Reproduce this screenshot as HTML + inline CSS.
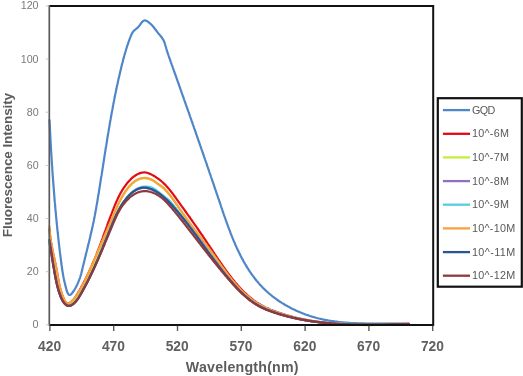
<!DOCTYPE html>
<html lang="en">
<head>
<meta charset="utf-8">
<title>Fluorescence spectra</title>
<style>
html,body{margin:0;padding:0;background:#ffffff;}
svg{display:block;}
</style>
</head>
<body>
<svg width="523" height="376" viewBox="0 0 523 376" font-family='"Liberation Sans", Arial, sans-serif'>
<rect x="0" y="0" width="523" height="376" fill="#ffffff"/>
<defs><filter id="gray" x="-5%" y="-5%" width="110%" height="110%" color-interpolation-filters="sRGB"><feColorMatrix type="saturate" values="0"/></filter></defs>
<g fill="none" stroke-width="2.2" stroke-linejoin="round" stroke-linecap="round">
<path stroke="#4e86c8" d="M49.5 120.0 L49.6 121.3 L49.6 122.6 L49.7 123.9 L49.8 125.3 L49.8 126.6 L49.9 127.9 L50.0 129.2 L50.0 130.5 L50.1 131.8 L50.2 133.1 L50.2 134.5 L50.3 135.8 L50.4 137.1 L50.4 138.4 L50.5 139.7 L50.6 141.0 L50.6 142.3 L50.7 143.6 L50.8 145.0 L50.9 146.3 L50.9 147.6 L51.0 148.9 L51.1 150.2 L51.2 151.5 L51.3 152.8 L51.3 154.1 L51.4 155.4 L51.5 156.7 L51.6 158.0 L51.7 159.3 L51.7 160.7 L51.8 162.0 L51.9 163.3 L52.0 164.6 L52.1 165.9 L52.2 167.2 L52.3 168.5 L52.3 169.8 L52.4 171.1 L52.5 172.4 L52.6 173.7 L52.7 175.0 L52.8 176.3 L52.9 177.6 L53.0 178.9 L53.1 180.2 L53.2 181.5 L53.3 182.8 L53.4 184.2 L53.5 185.5 L53.6 186.8 L53.7 188.1 L53.8 189.4 L53.9 190.7 L54.0 192.0 L54.1 193.3 L54.2 194.6 L54.3 195.9 L54.4 197.2 L54.5 198.5 L54.6 199.8 L54.7 201.1 L54.8 202.4 L55.0 203.7 L55.1 205.0 L55.2 206.3 L55.3 207.6 L55.4 209.0 L55.5 210.3 L55.7 211.6 L55.8 212.9 L55.9 214.2 L56.0 215.5 L56.1 216.8 L56.3 218.1 L56.4 219.4 L56.5 220.7 L56.6 222.0 L56.8 223.3 L56.9 224.6 L57.0 225.9 L57.2 227.3 L57.3 228.6 L57.4 229.9 L57.6 231.2 L57.7 232.5 L57.9 233.8 L58.0 235.1 L58.1 236.4 L58.3 237.7 L58.4 239.1 L58.6 240.4 L58.7 241.7 L58.9 243.0 L59.0 244.3 L59.2 245.6 L59.3 246.9 L59.5 248.2 L59.6 249.6 L59.8 250.9 L59.9 252.2 L60.1 253.5 L60.3 254.8 L60.4 256.1 L60.6 257.5 L60.8 258.8 L60.9 260.1 L61.1 261.4 L61.3 262.7 L61.4 264.0 L61.6 265.3 L61.8 266.5 L62.0 267.8 L62.1 269.0 L62.3 270.2 L62.5 271.4 L62.7 272.6 L62.9 273.8 L63.1 275.0 L63.3 276.2 L63.6 277.4 L63.8 278.7 L64.1 279.9 L64.3 281.3 L64.7 282.6 L65.0 284.1 L65.4 285.6 L65.8 287.1 L66.2 288.8 L66.6 290.4 L67.2 291.9 L67.7 293.2 L68.4 294.2 L69.0 294.9 L69.8 295.0 L70.6 294.7 L71.5 293.9 L72.4 292.8 L73.3 291.5 L74.1 290.3 L74.9 289.0 L75.6 287.7 L76.3 286.4 L76.9 285.2 L77.5 283.9 L78.1 282.7 L78.6 281.4 L79.1 280.2 L79.5 279.0 L80.0 277.8 L80.4 276.5 L80.7 275.3 L81.1 274.1 L81.4 272.9 L81.7 271.7 L82.0 270.5 L82.3 269.2 L82.6 268.0 L82.9 266.8 L83.2 265.6 L83.5 264.3 L83.8 263.1 L84.1 261.9 L84.4 260.6 L84.7 259.4 L85.0 258.1 L85.3 256.9 L85.6 255.6 L85.9 254.3 L86.2 253.1 L86.6 251.8 L86.9 250.5 L87.2 249.3 L87.5 248.0 L87.8 246.7 L88.1 245.4 L88.4 244.1 L88.8 242.8 L89.1 241.6 L89.4 240.3 L89.7 239.0 L90.0 237.7 L90.3 236.4 L90.6 235.1 L90.9 233.8 L91.2 232.5 L91.5 231.2 L91.8 229.9 L92.1 228.6 L92.4 227.3 L92.7 226.0 L92.9 224.7 L93.2 223.5 L93.5 222.2 L93.8 220.9 L94.0 219.6 L94.3 218.3 L94.5 217.0 L94.8 215.7 L95.0 214.4 L95.3 213.1 L95.5 211.9 L95.7 210.6 L96.0 209.3 L96.2 208.0 L96.4 206.7 L96.6 205.4 L96.9 204.1 L97.1 202.9 L97.3 201.6 L97.5 200.3 L97.7 199.0 L97.9 197.7 L98.1 196.4 L98.4 195.1 L98.6 193.8 L98.8 192.5 L99.0 191.3 L99.2 190.0 L99.4 188.7 L99.6 187.4 L99.8 186.1 L100.0 184.8 L100.2 183.5 L100.4 182.2 L100.6 180.9 L100.8 179.6 L101.0 178.3 L101.2 177.0 L101.5 175.7 L101.7 174.4 L101.9 173.1 L102.1 171.8 L102.3 170.5 L102.5 169.2 L102.7 167.9 L102.9 166.6 L103.1 165.3 L103.3 164.0 L103.5 162.7 L103.7 161.4 L103.9 160.1 L104.1 158.8 L104.3 157.5 L104.5 156.2 L104.7 154.9 L104.9 153.6 L105.1 152.4 L105.3 151.1 L105.5 149.8 L105.7 148.5 L105.9 147.2 L106.2 145.9 L106.4 144.6 L106.6 143.3 L106.8 142.0 L107.0 140.7 L107.2 139.4 L107.4 138.1 L107.6 136.8 L107.8 135.5 L108.0 134.2 L108.3 132.9 L108.5 131.6 L108.7 130.3 L108.9 129.0 L109.1 127.7 L109.4 126.4 L109.6 125.1 L109.8 123.8 L110.0 122.5 L110.2 121.3 L110.5 120.0 L110.7 118.7 L110.9 117.4 L111.2 116.1 L111.4 114.8 L111.6 113.5 L111.8 112.2 L112.1 110.9 L112.3 109.7 L112.6 108.4 L112.8 107.1 L113.0 105.8 L113.3 104.5 L113.5 103.2 L113.8 101.9 L114.0 100.6 L114.3 99.4 L114.5 98.1 L114.8 96.8 L115.0 95.5 L115.3 94.2 L115.6 92.9 L115.8 91.7 L116.1 90.4 L116.4 89.1 L116.6 87.8 L116.9 86.5 L117.2 85.2 L117.5 84.0 L117.7 82.7 L118.0 81.4 L118.3 80.1 L118.6 78.8 L118.9 77.5 L119.2 76.3 L119.5 75.0 L119.8 73.7 L120.1 72.4 L120.4 71.1 L120.7 69.9 L121.0 68.6 L121.3 67.3 L121.6 66.0 L121.9 64.8 L122.2 63.5 L122.6 62.2 L122.9 60.9 L123.2 59.6 L123.6 58.4 L123.9 57.1 L124.3 55.8 L124.6 54.6 L125.0 53.3 L125.4 52.0 L125.8 50.7 L126.1 49.5 L126.5 48.2 L126.9 46.9 L127.3 45.7 L127.8 44.4 L128.2 43.2 L128.6 41.9 L129.1 40.7 L129.5 39.4 L130.0 38.1 L130.5 36.9 L131.0 35.7 L131.5 34.5 L132.1 33.3 L132.8 32.2 L133.5 31.2 L134.4 30.3 L135.4 29.5 L136.4 28.7 L137.4 27.9 L138.3 27.0 L139.2 25.9 L140.0 24.8 L140.8 23.6 L141.6 22.6 L142.5 21.6 L143.5 20.8 L144.5 20.4 L145.5 20.5 L146.6 20.9 L147.8 21.7 L148.9 22.5 L150.0 23.4 L151.0 24.3 L152.0 25.2 L152.9 26.2 L153.7 27.2 L154.4 28.2 L155.2 29.3 L156.0 30.3 L156.8 31.3 L157.6 32.4 L158.4 33.4 L159.3 34.4 L160.1 35.4 L161.0 36.5 L161.8 37.5 L162.5 38.6 L163.2 39.7 L163.8 40.8 L164.3 42.0 L164.7 43.2 L165.1 44.5 L165.5 45.8 L165.9 47.0 L166.2 48.3 L166.6 49.6 L167.0 50.9 L167.4 52.1 L167.8 53.4 L168.3 54.7 L168.7 56.0 L169.1 57.2 L169.6 58.5 L170.0 59.7 L170.5 61.0 L170.9 62.3 L171.4 63.5 L171.8 64.8 L172.3 66.0 L172.7 67.3 L173.2 68.5 L173.6 69.8 L174.0 71.0 L174.5 72.3 L174.9 73.5 L175.4 74.8 L175.8 76.0 L176.3 77.3 L176.7 78.5 L177.1 79.7 L177.6 81.0 L178.0 82.2 L178.5 83.5 L178.9 84.7 L179.3 85.9 L179.8 87.2 L180.2 88.4 L180.6 89.6 L181.1 90.9 L181.5 92.1 L181.9 93.3 L182.4 94.6 L182.8 95.8 L183.2 97.0 L183.7 98.2 L184.1 99.5 L184.5 100.7 L185.0 101.9 L185.4 103.1 L185.8 104.4 L186.3 105.6 L186.7 106.8 L187.1 108.0 L187.6 109.3 L188.0 110.5 L188.4 111.7 L188.9 112.9 L189.3 114.1 L189.7 115.4 L190.1 116.6 L190.6 117.8 L191.0 119.0 L191.4 120.2 L191.8 121.5 L192.3 122.7 L192.7 123.9 L193.1 125.1 L193.6 126.3 L194.0 127.6 L194.4 128.8 L194.8 130.0 L195.3 131.2 L195.7 132.4 L196.1 133.6 L196.5 134.9 L197.0 136.1 L197.4 137.3 L197.8 138.5 L198.2 139.7 L198.6 141.0 L199.1 142.2 L199.5 143.4 L199.9 144.6 L200.3 145.8 L200.8 147.0 L201.2 148.3 L201.6 149.5 L202.0 150.7 L202.5 151.9 L202.9 153.2 L203.3 154.4 L203.7 155.6 L204.1 156.8 L204.6 158.0 L205.0 159.3 L205.4 160.5 L205.8 161.7 L206.3 162.9 L206.7 164.2 L207.1 165.4 L207.5 166.6 L208.0 167.9 L208.4 169.1 L208.8 170.3 L209.2 171.5 L209.6 172.8 L210.1 174.0 L210.5 175.2 L210.9 176.5 L211.3 177.7 L211.8 179.0 L212.2 180.2 L212.6 181.4 L213.0 182.7 L213.5 183.9 L213.9 185.2 L214.3 186.4 L214.7 187.6 L215.1 188.9 L215.6 190.1 L216.0 191.4 L216.4 192.6 L216.8 193.9 L217.3 195.1 L217.7 196.4 L218.1 197.6 L218.5 198.9 L219.0 200.2 L219.4 201.4 L219.8 202.7 L220.3 203.9 L220.7 205.2 L221.1 206.5 L221.5 207.7 L222.0 209.0 L222.4 210.3 L222.8 211.5 L223.3 212.8 L223.7 214.1 L224.1 215.3 L224.6 216.6 L225.0 217.9 L225.5 219.1 L225.9 220.4 L226.4 221.6 L226.8 222.9 L227.3 224.2 L227.7 225.4 L228.2 226.7 L228.6 227.9 L229.1 229.2 L229.6 230.4 L230.1 231.7 L230.5 232.9 L231.0 234.2 L231.5 235.4 L232.0 236.7 L232.5 237.9 L233.0 239.1 L233.5 240.4 L234.1 241.6 L234.6 242.8 L235.1 244.0 L235.6 245.2 L236.2 246.5 L236.7 247.7 L237.3 248.9 L237.8 250.1 L238.4 251.2 L239.0 252.4 L239.5 253.6 L240.1 254.8 L240.7 256.0 L241.3 257.1 L241.9 258.3 L242.6 259.4 L243.2 260.6 L243.8 261.7 L244.5 262.9 L245.1 264.0 L245.8 265.1 L246.4 266.2 L247.1 267.3 L247.8 268.4 L248.5 269.5 L249.2 270.6 L249.9 271.7 L250.6 272.7 L251.4 273.8 L252.1 274.8 L252.9 275.9 L253.7 276.9 L254.4 277.9 L255.2 279.0 L256.0 280.0 L256.8 281.0 L257.7 281.9 L258.5 282.9 L259.3 283.9 L260.2 284.9 L261.1 285.8 L262.0 286.7 L262.8 287.7 L263.8 288.6 L264.7 289.5 L265.6 290.4 L266.6 291.3 L267.5 292.1 L268.5 293.0 L269.5 293.8 L270.5 294.7 L271.5 295.5 L272.5 296.3 L273.6 297.1 L274.6 297.9 L275.7 298.7 L276.7 299.5 L277.8 300.2 L278.9 301.0 L280.0 301.7 L281.1 302.4 L282.2 303.1 L283.4 303.8 L284.5 304.5 L285.7 305.2 L286.8 305.8 L288.0 306.5 L289.2 307.1 L290.3 307.7 L291.5 308.4 L292.7 309.0 L293.9 309.5 L295.1 310.1 L296.3 310.7 L297.6 311.2 L298.8 311.7 L300.0 312.3 L301.3 312.8 L302.5 313.3 L303.7 313.7 L305.0 314.2 L306.2 314.7 L307.5 315.1 L308.7 315.5 L310.0 316.0 L311.3 316.4 L312.5 316.7 L313.8 317.1 L315.1 317.5 L316.3 317.8 L317.6 318.2 L318.9 318.5 L320.1 318.8 L321.4 319.1 L322.7 319.4 L324.0 319.6 L325.2 319.9 L326.5 320.1 L327.8 320.4 L329.1 320.6 L330.3 320.8 L331.6 321.0 L332.9 321.2 L334.2 321.4 L335.5 321.6 L336.8 321.7 L338.0 321.9 L339.3 322.0 L340.6 322.2 L341.9 322.3 L343.2 322.4 L344.5 322.5 L345.8 322.6 L347.1 322.7 L348.4 322.8 L349.6 322.9 L350.9 323.0 L352.2 323.0 L353.5 323.1 L354.8 323.2 L356.1 323.2 L357.4 323.3 L358.7 323.3 L360.0 323.3 L361.3 323.4 L362.6 323.4 L363.9 323.4 L365.2 323.5 L366.5 323.5 L367.8 323.5 L369.2 323.5 L370.5 323.5 L371.8 323.5 L373.1 323.5 L374.4 323.5 L375.7 323.5 L377.0 323.5 L378.3 323.5 L379.6 323.5 L381.0 323.5 L382.3 323.5 L383.6 323.5 L384.9 323.6 L386.2 323.6 L387.6 323.6 L388.9 323.6 L390.2 323.6 L391.5 323.6 L392.8 323.6 L394.2 323.6 L395.5 323.6 L396.8 323.6 L398.1 323.7 L399.5 323.7 L400.8 323.7 L402.1 323.8 L403.5 323.8 L404.8 323.8 L406.1 323.9 L407.5 323.9 L408.8 324.0"/>
<path stroke="#e00c14" d="M49.5 229.0 L49.5 229.8 L49.6 230.6 L49.6 231.4 L49.7 232.1 L49.8 232.9 L49.9 233.7 L49.9 234.5 L50.0 235.3 L50.1 236.1 L50.2 236.9 L50.3 237.7 L50.4 238.5 L50.5 239.3 L50.7 240.1 L50.8 240.9 L50.9 241.7 L51.0 242.5 L51.2 243.3 L51.3 244.1 L51.5 244.9 L51.6 245.7 L51.8 246.5 L51.9 247.3 L52.1 248.1 L52.2 248.9 L52.4 249.7 L52.5 250.5 L52.7 251.3 L52.9 252.1 L53.0 252.9 L53.2 253.7 L53.4 254.5 L53.6 255.3 L53.7 256.1 L53.9 256.9 L54.1 257.7 L54.2 258.5 L54.4 259.3 L54.6 260.1 L54.7 260.9 L54.9 261.7 L55.1 262.5 L55.3 263.3 L55.4 264.1 L55.6 264.9 L55.7 265.7 L55.9 266.5 L56.1 267.3 L56.2 268.1 L56.4 268.9 L56.5 269.7 L56.7 270.5 L56.8 271.2 L57.0 272.0 L57.1 272.8 L57.2 273.6 L57.4 274.4 L57.5 275.1 L57.6 275.9 L57.8 276.7 L57.9 277.5 L58.0 278.3 L58.2 279.0 L58.3 279.8 L58.5 280.6 L58.6 281.4 L58.7 282.2 L58.9 282.9 L59.1 283.7 L59.2 284.5 L59.4 285.3 L59.6 286.1 L59.8 286.9 L60.0 287.7 L60.2 288.5 L60.4 289.3 L60.6 290.0 L60.8 290.8 L61.1 291.6 L61.3 292.5 L61.6 293.3 L61.9 294.1 L62.1 294.9 L62.5 295.7 L62.8 296.5 L63.1 297.3 L63.5 298.2 L63.8 299.0 L64.2 299.8 L64.6 300.6 L65.0 301.3 L65.5 301.9 L65.9 302.5 L66.4 302.9 L67.0 303.3 L67.5 303.5 L68.1 303.5 L68.8 303.4 L69.4 303.2 L70.1 302.8 L70.7 302.3 L71.4 301.8 L72.0 301.2 L72.6 300.6 L73.2 300.0 L73.7 299.4 L74.2 298.7 L74.8 298.0 L75.2 297.3 L75.7 296.6 L76.2 295.9 L76.6 295.2 L77.0 294.5 L77.5 293.8 L77.9 293.1 L78.3 292.3 L78.7 291.6 L79.2 290.9 L79.6 290.2 L80.0 289.5 L80.4 288.8 L80.8 288.1 L81.2 287.3 L81.6 286.6 L82.0 285.9 L82.4 285.2 L82.7 284.5 L83.1 283.8 L83.5 283.0 L83.9 282.3 L84.3 281.6 L84.6 280.9 L85.0 280.2 L85.4 279.5 L85.7 278.7 L86.1 278.0 L86.4 277.3 L86.8 276.6 L87.1 275.9 L87.5 275.1 L87.8 274.4 L88.2 273.7 L88.5 273.0 L88.8 272.3 L89.2 271.5 L89.5 270.8 L89.8 270.1 L90.2 269.4 L90.5 268.6 L90.8 267.9 L91.2 267.2 L91.5 266.4 L91.8 265.7 L92.1 265.0 L92.4 264.3 L92.7 263.5 L93.0 262.8 L93.4 262.1 L93.7 261.3 L94.0 260.6 L94.3 259.9 L94.6 259.1 L94.9 258.4 L95.2 257.6 L95.5 256.9 L95.8 256.2 L96.1 255.4 L96.4 254.7 L96.7 253.9 L97.0 253.2 L97.2 252.4 L97.5 251.7 L97.8 250.9 L98.1 250.2 L98.4 249.4 L98.7 248.7 L99.0 247.9 L99.3 247.2 L99.5 246.4 L99.8 245.7 L100.1 244.9 L100.4 244.2 L100.7 243.4 L101.0 242.6 L101.2 241.9 L101.5 241.1 L101.8 240.4 L102.1 239.6 L102.4 238.8 L102.6 238.1 L102.9 237.3 L103.2 236.5 L103.5 235.8 L103.7 235.0 L104.0 234.2 L104.3 233.5 L104.6 232.7 L104.8 231.9 L105.1 231.2 L105.4 230.4 L105.7 229.6 L106.0 228.9 L106.2 228.1 L106.5 227.3 L106.8 226.6 L107.1 225.8 L107.3 225.0 L107.6 224.3 L107.9 223.5 L108.2 222.8 L108.5 222.0 L108.7 221.2 L109.0 220.5 L109.3 219.7 L109.6 218.9 L109.9 218.2 L110.1 217.4 L110.4 216.7 L110.7 215.9 L111.0 215.1 L111.3 214.4 L111.6 213.6 L111.9 212.9 L112.2 212.1 L112.4 211.4 L112.7 210.6 L113.0 209.9 L113.3 209.1 L113.6 208.4 L113.9 207.6 L114.2 206.9 L114.5 206.1 L114.8 205.4 L115.1 204.6 L115.4 203.9 L115.8 203.2 L116.1 202.4 L116.4 201.7 L116.7 201.0 L117.0 200.2 L117.4 199.5 L117.7 198.8 L118.1 198.1 L118.4 197.3 L118.8 196.6 L119.1 195.9 L119.5 195.2 L119.8 194.5 L120.2 193.8 L120.6 193.1 L121.0 192.4 L121.4 191.7 L121.8 191.0 L122.2 190.3 L122.6 189.6 L123.1 189.0 L123.5 188.3 L123.9 187.6 L124.4 187.0 L124.9 186.3 L125.3 185.6 L125.8 185.0 L126.3 184.3 L126.8 183.7 L127.3 183.0 L127.8 182.4 L128.4 181.8 L128.9 181.2 L129.5 180.6 L130.1 180.0 L130.6 179.4 L131.2 178.8 L131.8 178.2 L132.4 177.7 L133.1 177.2 L133.7 176.7 L134.4 176.2 L135.0 175.7 L135.7 175.3 L136.4 174.8 L137.1 174.4 L137.8 174.1 L138.6 173.7 L139.3 173.4 L140.1 173.1 L140.8 172.9 L141.6 172.7 L142.4 172.6 L143.2 172.5 L144.0 172.4 L144.7 172.4 L145.5 172.5 L146.3 172.6 L147.1 172.8 L147.8 173.0 L148.6 173.3 L149.4 173.6 L150.1 173.9 L150.9 174.3 L151.6 174.6 L152.3 175.0 L153.1 175.4 L153.8 175.8 L154.5 176.2 L155.2 176.7 L155.9 177.1 L156.5 177.6 L157.2 178.0 L157.9 178.5 L158.5 179.0 L159.2 179.4 L159.8 179.9 L160.4 180.4 L161.1 180.9 L161.7 181.5 L162.3 182.0 L162.9 182.5 L163.4 183.1 L164.0 183.6 L164.6 184.2 L165.2 184.7 L165.7 185.3 L166.3 185.9 L166.8 186.5 L167.4 187.1 L167.9 187.7 L168.4 188.3 L168.9 188.9 L169.5 189.6 L170.0 190.2 L170.5 190.8 L171.0 191.5 L171.5 192.1 L172.0 192.7 L172.5 193.4 L173.0 194.0 L173.5 194.7 L173.9 195.3 L174.4 196.0 L174.9 196.7 L175.4 197.3 L175.9 198.0 L176.3 198.6 L176.8 199.3 L177.3 200.0 L177.8 200.6 L178.2 201.3 L178.7 202.0 L179.2 202.6 L179.7 203.3 L180.1 203.9 L180.6 204.6 L181.1 205.2 L181.5 205.9 L182.0 206.6 L182.5 207.2 L183.0 207.9 L183.4 208.5 L183.9 209.2 L184.4 209.8 L184.8 210.5 L185.3 211.2 L185.8 211.8 L186.2 212.5 L186.7 213.1 L187.2 213.8 L187.6 214.4 L188.1 215.1 L188.6 215.7 L189.0 216.4 L189.5 217.0 L190.0 217.7 L190.4 218.4 L190.9 219.0 L191.3 219.7 L191.8 220.3 L192.3 221.0 L192.7 221.6 L193.2 222.3 L193.6 222.9 L194.1 223.6 L194.6 224.3 L195.0 224.9 L195.5 225.6 L195.9 226.2 L196.4 226.9 L196.9 227.5 L197.3 228.2 L197.8 228.9 L198.2 229.5 L198.7 230.2 L199.1 230.8 L199.6 231.5 L200.0 232.2 L200.5 232.8 L201.0 233.5 L201.4 234.1 L201.9 234.8 L202.3 235.5 L202.8 236.1 L203.2 236.8 L203.7 237.5 L204.1 238.1 L204.6 238.8 L205.0 239.5 L205.5 240.1 L205.9 240.8 L206.4 241.5 L206.8 242.1 L207.3 242.8 L207.7 243.5 L208.1 244.1 L208.6 244.8 L209.0 245.5 L209.5 246.2 L209.9 246.8 L210.4 247.5 L210.8 248.2 L211.3 248.9 L211.7 249.5 L212.2 250.2 L212.6 250.9 L213.1 251.6 L213.5 252.2 L214.0 252.9 L214.4 253.6 L214.9 254.3 L215.3 254.9 L215.8 255.6 L216.2 256.3 L216.7 257.0 L217.1 257.6 L217.6 258.3 L218.0 259.0 L218.5 259.6 L218.9 260.3 L219.4 261.0 L219.9 261.7 L220.3 262.3 L220.8 263.0 L221.2 263.7 L221.7 264.3 L222.2 265.0 L222.6 265.7 L223.1 266.3 L223.6 267.0 L224.0 267.7 L224.5 268.3 L225.0 269.0 L225.5 269.6 L225.9 270.3 L226.4 271.0 L226.9 271.6 L227.4 272.3 L227.8 272.9 L228.3 273.6 L228.8 274.2 L229.3 274.9 L229.8 275.5 L230.3 276.2 L230.8 276.8 L231.3 277.4 L231.8 278.1 L232.3 278.7 L232.8 279.4 L233.3 280.0 L233.8 280.6 L234.3 281.2 L234.8 281.9 L235.3 282.5 L235.9 283.1 L236.4 283.7 L236.9 284.3 L237.4 285.0 L238.0 285.6 L238.5 286.2 L239.0 286.8 L239.6 287.4 L240.1 288.0 L240.7 288.6 L241.2 289.1 L241.8 289.7 L242.3 290.3 L242.9 290.9 L243.5 291.4 L244.0 292.0 L244.6 292.6 L245.2 293.1 L245.8 293.7 L246.4 294.2 L246.9 294.8 L247.5 295.3 L248.1 295.8 L248.7 296.3 L249.3 296.9 L250.0 297.4 L250.6 297.9 L251.2 298.4 L251.8 298.9 L252.5 299.4 L253.1 299.9 L253.7 300.3 L254.4 300.8 L255.0 301.3 L255.7 301.7 L256.4 302.2 L257.0 302.6 L257.7 303.0 L258.4 303.5 L259.1 303.9 L259.8 304.3 L260.5 304.7 L261.2 305.1 L261.9 305.5 L262.6 305.9 L263.3 306.3 L264.0 306.6 L264.7 307.0 L265.5 307.4 L266.2 307.7 L267.0 308.0 L267.7 308.4 L268.5 308.7 L269.2 309.0 L270.0 309.4 L270.7 309.7 L271.5 310.0 L272.3 310.3 L273.0 310.6 L273.8 310.9 L274.6 311.2 L275.3 311.4 L276.1 311.7 L276.9 312.0 L277.6 312.3 L278.4 312.6 L279.2 312.8 L279.9 313.1 L280.7 313.3 L281.5 313.6 L282.3 313.8 L283.0 314.1 L283.8 314.3 L284.6 314.6 L285.4 314.8 L286.1 315.0 L286.9 315.3 L287.7 315.5 L288.5 315.7 L289.2 315.9 L290.0 316.2 L290.8 316.4 L291.6 316.6 L292.4 316.8 L293.1 317.0 L293.9 317.2 L294.7 317.4 L295.5 317.6 L296.3 317.8 L297.1 318.0 L297.8 318.1 L298.6 318.3 L299.4 318.5 L300.2 318.7 L301.0 318.8 L301.8 319.0 L302.6 319.2 L303.3 319.3 L304.1 319.5 L304.9 319.6 L305.7 319.8 L306.5 319.9 L307.3 320.1 L308.1 320.2 L308.9 320.4 L309.7 320.5 L310.5 320.6 L311.3 320.8 L312.0 320.9 L312.8 321.0 L313.6 321.1 L314.4 321.3 L315.2 321.4 L316.0 321.5 L316.8 321.6 L317.6 321.7 L318.4 321.8 L319.2 321.9 L320.0 322.0 L320.8 322.1 L321.6 322.2 L322.4 322.3 L323.2 322.4 L324.0 322.5 L324.8 322.6 L325.6 322.7 L326.4 322.8 L327.2 322.9 L328.0 322.9 L328.8 323.0 L329.6 323.1 L330.4 323.2 L331.2 323.2 L332.0 323.3 L332.8 323.4 L333.6 323.4 L334.4 323.5 L335.2 323.6 L336.0 323.6 L336.8 323.7 L337.6 323.7 L338.4 323.8 L339.2 323.8 L340.0 323.9 L340.8 323.9 L341.6 324.0 L342.4 324.0 L343.2 324.0 L344.1 324.1 L344.9 324.1 L345.7 324.2 L346.5 324.2 L347.3 324.2 L348.1 324.3 L348.9 324.3 L349.7 324.3 L350.5 324.4 L351.3 324.4 L352.1 324.4 L352.9 324.4 L353.7 324.4 L354.5 324.5 L355.4 324.5 L356.2 324.5 L357.0 324.5 L357.8 324.5 L358.6 324.5 L359.4 324.6 L360.2 324.6 L361.0 324.6 L361.8 324.6 L362.6 324.6 L363.4 324.6 L364.3 324.6 L365.1 324.6 L365.9 324.6 L366.7 324.6 L367.5 324.6 L368.3 324.6 L369.1 324.6 L369.9 324.6 L370.7 324.6 L371.5 324.6 L372.4 324.6 L373.2 324.6 L374.0 324.6 L374.8 324.6 L375.6 324.6 L376.4 324.6 L377.2 324.6 L378.0 324.6 L378.8 324.5 L379.7 324.5 L380.5 324.5 L381.3 324.5 L382.1 324.5 L382.9 324.5 L383.7 324.5 L384.5 324.5 L385.3 324.5 L386.1 324.4 L387.0 324.4 L387.8 324.4 L388.6 324.4 L389.4 324.4 L390.2 324.4 L391.0 324.3 L391.8 324.3 L392.6 324.3 L393.4 324.3 L394.2 324.3 L395.1 324.3 L395.9 324.3 L396.7 324.2 L397.5 324.2 L398.3 324.2 L399.1 324.2 L399.9 324.2 L400.7 324.2 L401.5 324.1 L402.3 324.1 L403.1 324.1 L404.0 324.1 L404.8 324.1 L405.6 324.1 L406.4 324.0 L407.2 324.0 L408.0 324.0 L408.8 324.0"/>
<path stroke="#c4ee3c" d="M49.5 233.0 L49.6 233.8 L49.7 234.6 L49.7 235.3 L49.8 236.1 L49.9 236.9 L50.0 237.7 L50.1 238.5 L50.2 239.3 L50.3 240.0 L50.4 240.8 L50.5 241.6 L50.6 242.4 L50.7 243.2 L50.8 244.0 L51.0 244.8 L51.1 245.5 L51.2 246.3 L51.3 247.1 L51.5 247.9 L51.6 248.7 L51.7 249.5 L51.8 250.2 L52.0 251.0 L52.1 251.8 L52.3 252.6 L52.4 253.4 L52.5 254.2 L52.7 254.9 L52.8 255.7 L53.0 256.5 L53.1 257.3 L53.3 258.1 L53.4 258.9 L53.6 259.6 L53.7 260.4 L53.9 261.2 L54.0 262.0 L54.2 262.8 L54.3 263.6 L54.5 264.3 L54.6 265.1 L54.8 265.9 L54.9 266.7 L55.1 267.4 L55.2 268.2 L55.4 269.0 L55.5 269.8 L55.7 270.6 L55.8 271.3 L56.0 272.1 L56.1 272.9 L56.3 273.7 L56.4 274.4 L56.6 275.2 L56.7 276.0 L56.9 276.7 L57.0 277.5 L57.2 278.3 L57.3 279.0 L57.5 279.8 L57.6 280.6 L57.8 281.4 L58.0 282.1 L58.1 282.9 L58.3 283.7 L58.5 284.4 L58.6 285.2 L58.8 285.9 L59.0 286.7 L59.2 287.5 L59.4 288.2 L59.7 289.0 L59.9 289.8 L60.1 290.5 L60.3 291.3 L60.6 292.0 L60.9 292.8 L61.1 293.6 L61.4 294.3 L61.7 295.1 L62.0 295.9 L62.3 296.6 L62.7 297.4 L63.0 298.1 L63.4 298.9 L63.7 299.7 L64.1 300.4 L64.5 301.2 L64.9 301.9 L65.4 302.6 L65.9 303.2 L66.3 303.8 L66.9 304.2 L67.4 304.6 L68.0 304.7 L68.6 304.7 L69.3 304.6 L69.9 304.4 L70.6 304.0 L71.3 303.5 L72.0 303.0 L72.7 302.4 L73.3 301.8 L73.9 301.2 L74.5 300.6 L75.1 299.9 L75.6 299.3 L76.1 298.6 L76.6 297.9 L77.1 297.3 L77.5 296.6 L77.9 295.9 L78.4 295.2 L78.8 294.6 L79.2 293.9 L79.6 293.2 L80.0 292.5 L80.4 291.8 L80.8 291.1 L81.2 290.5 L81.6 289.8 L82.0 289.1 L82.4 288.4 L82.8 287.7 L83.1 287.0 L83.5 286.3 L83.9 285.6 L84.3 284.9 L84.6 284.2 L85.0 283.5 L85.4 282.8 L85.7 282.1 L86.1 281.4 L86.4 280.7 L86.8 280.0 L87.1 279.3 L87.5 278.6 L87.8 277.9 L88.2 277.2 L88.5 276.5 L88.9 275.8 L89.2 275.1 L89.5 274.4 L89.9 273.7 L90.2 272.9 L90.5 272.2 L90.9 271.5 L91.2 270.8 L91.5 270.1 L91.8 269.4 L92.2 268.7 L92.5 267.9 L92.8 267.2 L93.1 266.5 L93.4 265.8 L93.8 265.1 L94.1 264.3 L94.4 263.6 L94.7 262.9 L95.0 262.2 L95.3 261.4 L95.6 260.7 L95.9 260.0 L96.2 259.3 L96.6 258.5 L96.9 257.8 L97.2 257.1 L97.5 256.4 L97.8 255.6 L98.1 254.9 L98.4 254.2 L98.7 253.4 L99.0 252.7 L99.3 252.0 L99.6 251.2 L99.9 250.5 L100.2 249.8 L100.5 249.0 L100.8 248.3 L101.1 247.6 L101.4 246.8 L101.7 246.1 L102.0 245.4 L102.3 244.6 L102.6 243.9 L102.9 243.2 L103.2 242.4 L103.4 241.7 L103.7 240.9 L104.0 240.2 L104.3 239.5 L104.6 238.7 L104.9 238.0 L105.2 237.3 L105.5 236.5 L105.8 235.8 L106.1 235.0 L106.4 234.3 L106.7 233.6 L107.0 232.8 L107.3 232.1 L107.5 231.3 L107.8 230.6 L108.1 229.9 L108.4 229.1 L108.7 228.4 L109.0 227.6 L109.3 226.9 L109.6 226.2 L109.9 225.4 L110.2 224.7 L110.5 223.9 L110.7 223.2 L111.0 222.5 L111.3 221.7 L111.6 221.0 L111.9 220.3 L112.2 219.5 L112.5 218.8 L112.8 218.0 L113.1 217.3 L113.4 216.6 L113.7 215.8 L113.9 215.1 L114.2 214.4 L114.5 213.6 L114.8 212.9 L115.1 212.1 L115.4 211.4 L115.7 210.7 L116.0 209.9 L116.3 209.2 L116.6 208.5 L116.9 207.8 L117.3 207.0 L117.6 206.3 L117.9 205.6 L118.2 204.9 L118.5 204.2 L118.9 203.4 L119.2 202.7 L119.5 202.0 L119.9 201.3 L120.2 200.6 L120.6 199.9 L121.0 199.2 L121.3 198.5 L121.7 197.8 L122.1 197.1 L122.5 196.4 L122.9 195.7 L123.3 195.0 L123.7 194.4 L124.1 193.7 L124.6 193.0 L125.0 192.4 L125.5 191.7 L125.9 191.0 L126.4 190.4 L126.9 189.7 L127.4 189.1 L127.9 188.5 L128.4 187.8 L128.9 187.2 L129.4 186.6 L130.0 186.0 L130.5 185.4 L131.1 184.8 L131.6 184.2 L132.2 183.7 L132.8 183.2 L133.4 182.6 L134.1 182.2 L134.7 181.7 L135.3 181.2 L136.0 180.8 L136.7 180.4 L137.4 180.1 L138.0 179.7 L138.8 179.5 L139.5 179.2 L140.2 179.0 L141.0 178.8 L141.7 178.6 L142.5 178.5 L143.3 178.4 L144.1 178.4 L144.9 178.4 L145.7 178.5 L146.5 178.6 L147.3 178.7 L148.1 178.9 L148.9 179.1 L149.7 179.3 L150.5 179.6 L151.3 179.9 L152.0 180.2 L152.7 180.5 L153.4 180.9 L154.1 181.3 L154.8 181.7 L155.4 182.2 L156.0 182.6 L156.7 183.1 L157.3 183.5 L157.9 184.0 L158.5 184.5 L159.2 185.0 L159.8 185.5 L160.4 186.0 L161.0 186.4 L161.6 186.9 L162.2 187.5 L162.8 188.0 L163.4 188.5 L164.0 189.0 L164.5 189.5 L165.1 190.1 L165.7 190.6 L166.2 191.1 L166.8 191.7 L167.3 192.3 L167.9 192.8 L168.4 193.4 L168.9 194.0 L169.4 194.6 L170.0 195.2 L170.5 195.8 L170.9 196.4 L171.4 197.1 L171.9 197.7 L172.4 198.3 L172.9 199.0 L173.3 199.6 L173.8 200.3 L174.2 200.9 L174.7 201.6 L175.1 202.2 L175.6 202.9 L176.0 203.6 L176.5 204.2 L176.9 204.9 L177.4 205.6 L177.8 206.2 L178.2 206.9 L178.7 207.6 L179.1 208.2 L179.5 208.9 L180.0 209.6 L180.4 210.3 L180.9 210.9 L181.3 211.6 L181.8 212.3 L182.2 212.9 L182.6 213.6 L183.1 214.2 L183.5 214.9 L184.0 215.5 L184.4 216.2 L184.9 216.9 L185.4 217.5 L185.8 218.1 L186.3 218.8 L186.7 219.4 L187.2 220.1 L187.7 220.7 L188.1 221.4 L188.6 222.0 L189.0 222.6 L189.5 223.3 L190.0 223.9 L190.4 224.6 L190.9 225.2 L191.4 225.8 L191.9 226.5 L192.3 227.1 L192.8 227.7 L193.3 228.3 L193.7 229.0 L194.2 229.6 L194.7 230.2 L195.2 230.9 L195.6 231.5 L196.1 232.1 L196.6 232.7 L197.1 233.4 L197.5 234.0 L198.0 234.6 L198.5 235.2 L199.0 235.9 L199.5 236.5 L199.9 237.1 L200.4 237.7 L200.9 238.4 L201.4 239.0 L201.8 239.6 L202.3 240.2 L202.8 240.9 L203.3 241.5 L203.8 242.1 L204.2 242.7 L204.7 243.4 L205.2 244.0 L205.7 244.6 L206.1 245.2 L206.6 245.9 L207.1 246.5 L207.6 247.1 L208.0 247.8 L208.5 248.4 L209.0 249.0 L209.5 249.6 L209.9 250.3 L210.4 250.9 L210.9 251.6 L211.3 252.2 L211.8 252.8 L212.3 253.5 L212.7 254.1 L213.2 254.8 L213.7 255.4 L214.1 256.0 L214.6 256.7 L215.1 257.3 L215.5 258.0 L216.0 258.6 L216.4 259.3 L216.9 259.9 L217.4 260.6 L217.8 261.2 L218.3 261.9 L218.7 262.5 L219.2 263.2 L219.7 263.8 L220.1 264.5 L220.6 265.1 L221.1 265.8 L221.5 266.4 L222.0 267.1 L222.4 267.7 L222.9 268.4 L223.4 269.0 L223.9 269.7 L224.3 270.3 L224.8 270.9 L225.3 271.6 L225.7 272.2 L226.2 272.9 L226.7 273.5 L227.2 274.1 L227.6 274.8 L228.1 275.4 L228.6 276.0 L229.1 276.7 L229.6 277.3 L230.1 277.9 L230.6 278.6 L231.1 279.2 L231.6 279.8 L232.1 280.4 L232.6 281.0 L233.1 281.7 L233.6 282.3 L234.1 282.9 L234.6 283.5 L235.1 284.1 L235.6 284.7 L236.2 285.3 L236.7 285.9 L237.2 286.5 L237.7 287.1 L238.3 287.6 L238.8 288.2 L239.3 288.8 L239.9 289.4 L240.4 289.9 L241.0 290.5 L241.5 291.1 L242.1 291.6 L242.7 292.2 L243.2 292.7 L243.8 293.3 L244.4 293.8 L244.9 294.3 L245.5 294.9 L246.1 295.4 L246.7 295.9 L247.3 296.4 L247.9 296.9 L248.5 297.4 L249.1 297.9 L249.7 298.4 L250.3 298.9 L250.9 299.4 L251.5 299.9 L252.2 300.4 L252.8 300.8 L253.4 301.3 L254.1 301.7 L254.7 302.2 L255.4 302.6 L256.0 303.0 L256.7 303.5 L257.4 303.9 L258.0 304.3 L258.7 304.7 L259.4 305.1 L260.1 305.5 L260.8 305.9 L261.5 306.3 L262.2 306.6 L262.9 307.0 L263.6 307.4 L264.3 307.7 L265.0 308.0 L265.8 308.4 L266.5 308.7 L267.2 309.0 L268.0 309.4 L268.7 309.7 L269.4 310.0 L270.2 310.3 L270.9 310.6 L271.7 310.9 L272.4 311.2 L273.2 311.4 L273.9 311.7 L274.7 312.0 L275.4 312.3 L276.2 312.5 L277.0 312.8 L277.7 313.1 L278.5 313.3 L279.2 313.6 L280.0 313.8 L280.8 314.1 L281.5 314.3 L282.3 314.5 L283.0 314.8 L283.8 315.0 L284.6 315.2 L285.3 315.5 L286.1 315.7 L286.8 315.9 L287.6 316.1 L288.4 316.3 L289.1 316.5 L289.9 316.8 L290.7 317.0 L291.4 317.2 L292.2 317.4 L293.0 317.5 L293.7 317.7 L294.5 317.9 L295.3 318.1 L296.1 318.3 L296.8 318.5 L297.6 318.6 L298.4 318.8 L299.1 319.0 L299.9 319.2 L300.7 319.3 L301.5 319.5 L302.2 319.6 L303.0 319.8 L303.8 319.9 L304.5 320.1 L305.3 320.2 L306.1 320.4 L306.9 320.5 L307.6 320.7 L308.4 320.8 L309.2 320.9 L310.0 321.1 L310.8 321.2 L311.5 321.3 L312.3 321.4 L313.1 321.6 L313.9 321.7 L314.7 321.8 L315.4 321.9 L316.2 322.0 L317.0 322.1 L317.8 322.2 L318.6 322.3 L319.3 322.4 L320.1 322.5 L320.9 322.6 L321.7 322.7 L322.5 322.8 L323.3 322.9 L324.0 323.0 L324.8 323.1 L325.6 323.2 L326.4 323.2 L327.2 323.3 L328.0 323.4 L328.7 323.5 L329.5 323.5 L330.3 323.6 L331.1 323.7 L331.9 323.7 L332.7 323.8 L333.5 323.9 L334.2 323.9 L335.0 324.0 L335.8 324.0 L336.6 324.1 L337.4 324.2 L338.2 324.2 L339.0 324.3 L339.8 324.3 L340.6 324.4 L341.3 324.4 L342.1 324.4 L342.9 324.5 L343.7 324.5 L344.5 324.6 L345.3 324.6 L346.1 324.6 L346.9 324.7 L347.7 324.7 L348.5 324.7 L349.3 324.8 L350.0 324.8 L350.8 324.8 L351.6 324.8 L352.4 324.9 L353.2 324.9 L354.0 324.9 L354.8 324.9 L355.6 324.9 L356.4 325.0 L357.2 325.0 L358.0 325.0 L358.8 325.0 L359.6 325.0 L360.3 325.0 L361.1 325.0 L361.9 325.0 L362.7 325.0 L363.5 325.1 L364.3 325.1 L365.1 325.1 L365.9 325.1 L366.7 325.1 L367.5 325.1 L368.3 325.1 L369.1 325.1 L369.9 325.1 L370.7 325.1 L371.5 325.1 L372.3 325.1 L373.1 325.1 L373.9 325.1 L374.6 325.0 L375.4 325.0 L376.2 325.0 L377.0 325.0 L377.8 325.0 L378.6 325.0 L379.4 325.0 L380.2 325.0 L381.0 325.0 L381.8 325.0 L382.6 325.0 L383.4 324.9 L384.2 324.9 L385.0 324.9 L385.8 324.9 L386.6 324.9 L387.4 324.9 L388.2 324.9 L389.0 324.9 L389.7 324.8 L390.5 324.8 L391.3 324.8 L392.1 324.8 L392.9 324.8 L393.7 324.8 L394.5 324.7 L395.3 324.7 L396.1 324.7 L396.9 324.7 L397.7 324.7 L398.5 324.7 L399.3 324.6 L400.1 324.6 L400.9 324.6 L401.7 324.6 L402.5 324.6 L403.2 324.6 L404.0 324.5 L404.8 324.5 L405.6 324.5 L406.4 324.5 L407.2 324.5 L408.0 324.5 L408.8 324.4"/>
<path stroke="#9070c0" d="M49.5 240.0 L49.6 240.7 L49.7 241.5 L49.9 242.2 L50.0 243.0 L50.1 243.8 L50.2 244.5 L50.3 245.3 L50.4 246.0 L50.6 246.8 L50.7 247.5 L50.8 248.3 L50.9 249.0 L51.0 249.8 L51.1 250.6 L51.2 251.3 L51.4 252.1 L51.5 252.8 L51.6 253.6 L51.7 254.4 L51.8 255.1 L51.9 255.9 L52.1 256.7 L52.2 257.4 L52.3 258.2 L52.4 258.9 L52.5 259.7 L52.6 260.5 L52.8 261.2 L52.9 262.0 L53.0 262.7 L53.1 263.5 L53.2 264.3 L53.4 265.0 L53.5 265.8 L53.6 266.5 L53.7 267.3 L53.9 268.1 L54.0 268.8 L54.1 269.6 L54.2 270.3 L54.4 271.1 L54.5 271.8 L54.6 272.6 L54.8 273.3 L54.9 274.1 L55.0 274.8 L55.2 275.6 L55.3 276.3 L55.5 277.1 L55.6 277.8 L55.8 278.5 L55.9 279.3 L56.1 280.0 L56.2 280.8 L56.4 281.5 L56.5 282.2 L56.7 283.0 L56.8 283.7 L57.0 284.4 L57.2 285.1 L57.4 285.9 L57.6 286.6 L57.7 287.3 L57.9 288.1 L58.1 288.8 L58.4 289.5 L58.6 290.3 L58.8 291.0 L59.0 291.7 L59.3 292.5 L59.5 293.2 L59.8 294.0 L60.0 294.7 L60.3 295.5 L60.6 296.2 L60.9 297.0 L61.2 297.7 L61.6 298.4 L61.9 299.2 L62.3 299.9 L62.6 300.6 L63.1 301.3 L63.5 301.9 L63.9 302.6 L64.4 303.2 L65.0 303.8 L65.5 304.3 L66.1 304.8 L66.7 305.2 L67.3 305.5 L67.9 305.7 L68.6 305.8 L69.2 305.8 L69.9 305.7 L70.6 305.5 L71.2 305.2 L71.9 304.8 L72.6 304.3 L73.2 303.8 L73.9 303.3 L74.5 302.7 L75.1 302.1 L75.6 301.5 L76.2 300.9 L76.7 300.3 L77.2 299.6 L77.6 299.0 L78.1 298.3 L78.5 297.7 L79.0 297.0 L79.4 296.4 L79.8 295.7 L80.2 295.0 L80.6 294.3 L81.0 293.7 L81.3 293.0 L81.7 292.3 L82.1 291.7 L82.5 291.0 L82.8 290.3 L83.2 289.6 L83.6 289.0 L83.9 288.3 L84.3 287.6 L84.7 287.0 L85.0 286.3 L85.4 285.6 L85.7 284.9 L86.1 284.3 L86.4 283.6 L86.8 282.9 L87.1 282.3 L87.5 281.6 L87.8 280.9 L88.1 280.3 L88.5 279.6 L88.8 278.9 L89.1 278.2 L89.5 277.6 L89.8 276.9 L90.1 276.2 L90.5 275.5 L90.8 274.9 L91.1 274.2 L91.4 273.5 L91.7 272.8 L92.1 272.2 L92.4 271.5 L92.7 270.8 L93.0 270.1 L93.3 269.4 L93.6 268.7 L94.0 268.1 L94.3 267.4 L94.6 266.7 L94.9 266.0 L95.2 265.3 L95.5 264.6 L95.8 263.9 L96.1 263.2 L96.4 262.5 L96.7 261.8 L97.0 261.1 L97.3 260.4 L97.6 259.7 L97.9 259.0 L98.2 258.3 L98.5 257.6 L98.8 256.9 L99.1 256.2 L99.4 255.5 L99.7 254.7 L100.0 254.0 L100.3 253.3 L100.6 252.6 L100.9 251.9 L101.2 251.2 L101.5 250.4 L101.8 249.7 L102.1 249.0 L102.4 248.3 L102.7 247.5 L103.0 246.8 L103.3 246.1 L103.6 245.4 L103.9 244.6 L104.2 243.9 L104.5 243.2 L104.8 242.5 L105.1 241.7 L105.4 241.0 L105.7 240.3 L106.0 239.6 L106.3 238.8 L106.6 238.1 L106.9 237.4 L107.1 236.7 L107.4 236.0 L107.7 235.2 L108.0 234.5 L108.3 233.8 L108.6 233.1 L108.9 232.4 L109.2 231.7 L109.5 231.0 L109.8 230.3 L110.1 229.6 L110.3 228.9 L110.6 228.2 L110.9 227.5 L111.2 226.8 L111.5 226.1 L111.8 225.4 L112.1 224.7 L112.3 224.0 L112.6 223.3 L112.9 222.6 L113.2 222.0 L113.5 221.3 L113.8 220.6 L114.1 220.0 L114.3 219.3 L114.6 218.6 L114.9 218.0 L115.2 217.3 L115.5 216.7 L115.8 216.0 L116.1 215.3 L116.4 214.7 L116.7 214.0 L117.0 213.4 L117.3 212.7 L117.7 212.1 L118.0 211.4 L118.3 210.8 L118.7 210.1 L119.0 209.5 L119.4 208.8 L119.8 208.2 L120.2 207.5 L120.5 206.9 L120.9 206.2 L121.4 205.6 L121.8 204.9 L122.2 204.2 L122.6 203.6 L123.1 202.9 L123.6 202.2 L124.0 201.6 L124.5 200.9 L125.0 200.3 L125.5 199.6 L126.1 199.0 L126.6 198.3 L127.1 197.7 L127.7 197.1 L128.2 196.5 L128.8 195.9 L129.4 195.3 L129.9 194.7 L130.5 194.2 L131.1 193.6 L131.7 193.1 L132.4 192.6 L133.0 192.1 L133.6 191.7 L134.2 191.2 L134.9 190.8 L135.5 190.4 L136.2 190.0 L136.9 189.7 L137.5 189.4 L138.2 189.1 L138.9 188.8 L139.6 188.6 L140.3 188.4 L141.0 188.2 L141.7 188.1 L142.4 188.0 L143.1 187.9 L143.9 187.9 L144.6 187.9 L145.3 187.9 L146.1 188.0 L146.8 188.1 L147.5 188.3 L148.3 188.4 L149.0 188.6 L149.8 188.8 L150.5 189.1 L151.2 189.4 L152.0 189.7 L152.7 190.0 L153.4 190.3 L154.1 190.7 L154.8 191.0 L155.5 191.4 L156.2 191.8 L156.9 192.2 L157.6 192.7 L158.3 193.1 L159.0 193.6 L159.6 194.0 L160.2 194.5 L160.9 194.9 L161.5 195.4 L162.1 195.9 L162.7 196.4 L163.2 196.9 L163.8 197.4 L164.4 197.8 L164.9 198.3 L165.5 198.8 L166.0 199.4 L166.5 199.9 L167.1 200.4 L167.6 200.9 L168.1 201.4 L168.7 202.0 L169.2 202.5 L169.7 203.0 L170.2 203.6 L170.7 204.1 L171.3 204.7 L171.8 205.2 L172.3 205.8 L172.8 206.4 L173.3 206.9 L173.8 207.5 L174.4 208.1 L174.9 208.7 L175.4 209.2 L175.9 209.8 L176.4 210.4 L176.9 211.0 L177.4 211.6 L177.9 212.2 L178.4 212.8 L178.9 213.4 L179.4 214.0 L179.9 214.6 L180.4 215.2 L180.9 215.8 L181.3 216.4 L181.8 217.0 L182.3 217.6 L182.8 218.2 L183.3 218.8 L183.8 219.4 L184.2 220.0 L184.7 220.6 L185.2 221.2 L185.7 221.8 L186.1 222.4 L186.6 223.0 L187.1 223.6 L187.5 224.2 L188.0 224.8 L188.5 225.4 L188.9 226.0 L189.4 226.6 L189.9 227.2 L190.3 227.8 L190.8 228.4 L191.2 229.0 L191.7 229.6 L192.1 230.3 L192.6 230.9 L193.1 231.5 L193.5 232.1 L194.0 232.7 L194.4 233.3 L194.9 233.9 L195.3 234.5 L195.8 235.1 L196.2 235.7 L196.7 236.4 L197.1 237.0 L197.6 237.6 L198.0 238.2 L198.5 238.8 L198.9 239.4 L199.4 240.0 L199.8 240.7 L200.3 241.3 L200.7 241.9 L201.2 242.5 L201.6 243.1 L202.0 243.7 L202.5 244.3 L202.9 245.0 L203.4 245.6 L203.8 246.2 L204.3 246.8 L204.7 247.4 L205.2 248.0 L205.6 248.6 L206.1 249.3 L206.5 249.9 L207.0 250.5 L207.4 251.1 L207.9 251.7 L208.3 252.3 L208.8 253.0 L209.2 253.6 L209.7 254.2 L210.1 254.8 L210.6 255.4 L211.0 256.0 L211.5 256.6 L211.9 257.3 L212.4 257.9 L212.8 258.5 L213.3 259.1 L213.8 259.7 L214.2 260.3 L214.7 261.0 L215.1 261.6 L215.6 262.2 L216.1 262.8 L216.5 263.4 L217.0 264.0 L217.5 264.6 L217.9 265.2 L218.4 265.9 L218.9 266.5 L219.3 267.1 L219.8 267.7 L220.3 268.3 L220.8 268.9 L221.2 269.5 L221.7 270.1 L222.2 270.7 L222.7 271.3 L223.1 271.9 L223.6 272.5 L224.1 273.1 L224.6 273.7 L225.1 274.3 L225.6 274.9 L226.0 275.5 L226.5 276.1 L227.0 276.7 L227.5 277.3 L228.0 277.9 L228.5 278.5 L229.0 279.1 L229.5 279.7 L230.0 280.3 L230.5 280.9 L231.0 281.4 L231.5 282.0 L232.0 282.6 L232.5 283.2 L233.0 283.8 L233.5 284.3 L234.0 284.9 L234.5 285.5 L235.1 286.1 L235.6 286.6 L236.1 287.2 L236.6 287.7 L237.1 288.3 L237.7 288.8 L238.2 289.4 L238.7 289.9 L239.3 290.5 L239.8 291.0 L240.3 291.6 L240.9 292.1 L241.4 292.6 L242.0 293.2 L242.5 293.7 L243.1 294.2 L243.6 294.7 L244.2 295.2 L244.8 295.7 L245.3 296.2 L245.9 296.7 L246.5 297.2 L247.1 297.7 L247.7 298.2 L248.2 298.7 L248.8 299.1 L249.4 299.6 L250.0 300.1 L250.6 300.5 L251.2 301.0 L251.8 301.4 L252.5 301.8 L253.1 302.3 L253.7 302.7 L254.3 303.1 L255.0 303.5 L255.6 303.9 L256.2 304.4 L256.9 304.7 L257.5 305.1 L258.2 305.5 L258.9 305.9 L259.5 306.3 L260.2 306.6 L260.9 307.0 L261.6 307.3 L262.2 307.7 L262.9 308.0 L263.6 308.3 L264.3 308.6 L265.0 308.9 L265.7 309.3 L266.5 309.5 L267.2 309.8 L267.9 310.1 L268.6 310.4 L269.3 310.7 L270.1 311.0 L270.8 311.2 L271.5 311.5 L272.3 311.8 L273.0 312.0 L273.7 312.3 L274.5 312.5 L275.2 312.8 L276.0 313.0 L276.7 313.2 L277.4 313.5 L278.2 313.7 L278.9 313.9 L279.7 314.2 L280.4 314.4 L281.1 314.6 L281.9 314.8 L282.6 315.0 L283.4 315.2 L284.1 315.5 L284.8 315.7 L285.6 315.9 L286.3 316.1 L287.1 316.3 L287.8 316.5 L288.6 316.6 L289.3 316.8 L290.0 317.0 L290.8 317.2 L291.5 317.4 L292.3 317.6 L293.0 317.7 L293.8 317.9 L294.5 318.1 L295.3 318.2 L296.0 318.4 L296.8 318.6 L297.5 318.7 L298.3 318.9 L299.0 319.0 L299.7 319.2 L300.5 319.3 L301.2 319.5 L302.0 319.6 L302.7 319.8 L303.5 319.9 L304.2 320.0 L305.0 320.2 L305.7 320.3 L306.5 320.4 L307.2 320.6 L308.0 320.7 L308.8 320.8 L309.5 320.9 L310.3 321.1 L311.0 321.2 L311.8 321.3 L312.5 321.4 L313.3 321.5 L314.0 321.6 L314.8 321.7 L315.5 321.8 L316.3 321.9 L317.0 322.0 L317.8 322.1 L318.5 322.2 L319.3 322.3 L320.1 322.4 L320.8 322.5 L321.6 322.6 L322.3 322.6 L323.1 322.7 L323.8 322.8 L324.6 322.9 L325.4 323.0 L326.1 323.0 L326.9 323.1 L327.6 323.2 L328.4 323.2 L329.1 323.3 L329.9 323.4 L330.7 323.4 L331.4 323.5 L332.2 323.6 L332.9 323.6 L333.7 323.7 L334.5 323.7 L335.2 323.8 L336.0 323.8 L336.7 323.9 L337.5 323.9 L338.3 324.0 L339.0 324.0 L339.8 324.1 L340.5 324.1 L341.3 324.1 L342.1 324.2 L342.8 324.2 L343.6 324.3 L344.4 324.3 L345.1 324.3 L345.9 324.4 L346.6 324.4 L347.4 324.4 L348.2 324.4 L348.9 324.5 L349.7 324.5 L350.5 324.5 L351.2 324.5 L352.0 324.6 L352.8 324.6 L353.5 324.6 L354.3 324.6 L355.0 324.6 L355.8 324.7 L356.6 324.7 L357.3 324.7 L358.1 324.7 L358.9 324.7 L359.6 324.7 L360.4 324.7 L361.2 324.7 L361.9 324.7 L362.7 324.7 L363.5 324.7 L364.2 324.8 L365.0 324.8 L365.8 324.8 L366.5 324.8 L367.3 324.8 L368.1 324.8 L368.8 324.8 L369.6 324.8 L370.4 324.8 L371.1 324.7 L371.9 324.7 L372.7 324.7 L373.4 324.7 L374.2 324.7 L375.0 324.7 L375.7 324.7 L376.5 324.7 L377.3 324.7 L378.0 324.7 L378.8 324.7 L379.6 324.7 L380.3 324.6 L381.1 324.6 L381.9 324.6 L382.6 324.6 L383.4 324.6 L384.2 324.6 L385.0 324.6 L385.7 324.6 L386.5 324.5 L387.3 324.5 L388.0 324.5 L388.8 324.5 L389.6 324.5 L390.3 324.5 L391.1 324.4 L391.9 324.4 L392.6 324.4 L393.4 324.4 L394.2 324.4 L395.0 324.4 L395.7 324.3 L396.5 324.3 L397.3 324.3 L398.0 324.3 L398.8 324.3 L399.6 324.2 L400.3 324.2 L401.1 324.2 L401.9 324.2 L402.6 324.2 L403.4 324.1 L404.2 324.1 L405.0 324.1 L405.7 324.1 L406.5 324.1 L407.3 324.0 L408.0 324.0 L408.8 324.0"/>
<path stroke="#58cce0" d="M49.5 240.0 L49.6 240.8 L49.7 241.5 L49.9 242.3 L50.0 243.0 L50.1 243.8 L50.2 244.5 L50.3 245.3 L50.4 246.1 L50.6 246.8 L50.7 247.6 L50.8 248.3 L50.9 249.1 L51.0 249.9 L51.1 250.6 L51.3 251.4 L51.4 252.1 L51.5 252.9 L51.6 253.7 L51.7 254.4 L51.8 255.2 L51.9 255.9 L52.1 256.7 L52.2 257.4 L52.3 258.2 L52.4 259.0 L52.5 259.7 L52.6 260.5 L52.8 261.2 L52.9 262.0 L53.0 262.8 L53.1 263.5 L53.2 264.3 L53.4 265.0 L53.5 265.8 L53.6 266.6 L53.7 267.3 L53.9 268.1 L54.0 268.8 L54.1 269.6 L54.3 270.3 L54.4 271.1 L54.5 271.9 L54.6 272.6 L54.8 273.4 L54.9 274.1 L55.1 274.9 L55.2 275.6 L55.3 276.4 L55.5 277.1 L55.6 277.9 L55.8 278.6 L55.9 279.4 L56.1 280.1 L56.2 280.9 L56.4 281.6 L56.5 282.4 L56.7 283.1 L56.9 283.9 L57.0 284.6 L57.2 285.4 L57.4 286.1 L57.6 286.9 L57.8 287.6 L58.0 288.3 L58.2 289.1 L58.4 289.8 L58.6 290.5 L58.8 291.3 L59.1 292.0 L59.3 292.7 L59.6 293.5 L59.8 294.2 L60.1 294.9 L60.4 295.6 L60.7 296.4 L61.0 297.1 L61.3 297.8 L61.6 298.5 L62.0 299.2 L62.3 299.9 L62.7 300.5 L63.1 301.2 L63.6 301.9 L64.0 302.5 L64.5 303.2 L65.1 303.8 L65.6 304.4 L66.2 304.9 L66.8 305.3 L67.4 305.7 L68.1 305.9 L68.7 306.0 L69.4 306.0 L70.1 305.9 L70.7 305.6 L71.4 305.2 L72.1 304.8 L72.8 304.3 L73.4 303.7 L74.0 303.1 L74.6 302.5 L75.2 301.9 L75.8 301.3 L76.3 300.6 L76.8 300.0 L77.3 299.3 L77.7 298.7 L78.2 298.0 L78.6 297.4 L79.0 296.7 L79.4 296.1 L79.8 295.4 L80.2 294.8 L80.6 294.1 L81.0 293.5 L81.4 292.8 L81.7 292.1 L82.1 291.5 L82.5 290.8 L82.9 290.2 L83.2 289.5 L83.6 288.8 L84.0 288.2 L84.3 287.5 L84.7 286.8 L85.1 286.2 L85.4 285.5 L85.8 284.8 L86.1 284.2 L86.5 283.5 L86.8 282.8 L87.2 282.1 L87.5 281.5 L87.9 280.8 L88.2 280.1 L88.6 279.4 L88.9 278.8 L89.3 278.1 L89.6 277.4 L89.9 276.7 L90.3 276.0 L90.6 275.4 L90.9 274.7 L91.3 274.0 L91.6 273.3 L91.9 272.6 L92.2 271.9 L92.6 271.2 L92.9 270.5 L93.2 269.9 L93.5 269.2 L93.8 268.5 L94.2 267.8 L94.5 267.1 L94.8 266.4 L95.1 265.7 L95.4 265.0 L95.7 264.3 L96.0 263.6 L96.3 262.9 L96.6 262.2 L97.0 261.5 L97.3 260.8 L97.6 260.1 L97.9 259.4 L98.2 258.6 L98.5 257.9 L98.8 257.2 L99.0 256.5 L99.3 255.8 L99.6 255.1 L99.9 254.4 L100.2 253.6 L100.5 252.9 L100.8 252.2 L101.1 251.5 L101.4 250.8 L101.7 250.0 L102.0 249.3 L102.2 248.6 L102.5 247.9 L102.8 247.2 L103.1 246.4 L103.4 245.7 L103.7 245.0 L104.0 244.3 L104.2 243.5 L104.5 242.8 L104.8 242.1 L105.1 241.4 L105.4 240.7 L105.7 239.9 L106.0 239.2 L106.2 238.5 L106.5 237.8 L106.8 237.1 L107.1 236.3 L107.4 235.6 L107.7 234.9 L107.9 234.2 L108.2 233.5 L108.5 232.8 L108.8 232.1 L109.1 231.3 L109.4 230.6 L109.7 229.9 L110.0 229.2 L110.3 228.5 L110.6 227.8 L110.8 227.1 L111.1 226.4 L111.4 225.7 L111.7 225.0 L112.0 224.3 L112.3 223.6 L112.6 222.9 L112.9 222.3 L113.2 221.6 L113.5 220.9 L113.8 220.2 L114.2 219.5 L114.5 218.9 L114.8 218.2 L115.1 217.5 L115.4 216.8 L115.7 216.2 L116.1 215.5 L116.4 214.8 L116.7 214.2 L117.1 213.5 L117.4 212.8 L117.7 212.2 L118.1 211.5 L118.4 210.9 L118.8 210.2 L119.2 209.5 L119.5 208.9 L119.9 208.2 L120.3 207.5 L120.7 206.9 L121.1 206.2 L121.5 205.6 L121.9 204.9 L122.3 204.2 L122.7 203.6 L123.1 202.9 L123.6 202.2 L124.0 201.6 L124.5 200.9 L124.9 200.3 L125.4 199.6 L125.9 199.0 L126.4 198.3 L126.8 197.7 L127.3 197.1 L127.9 196.5 L128.4 195.9 L128.9 195.3 L129.4 194.7 L130.0 194.1 L130.5 193.6 L131.1 193.0 L131.7 192.5 L132.3 192.0 L132.9 191.5 L133.5 191.0 L134.1 190.6 L134.7 190.2 L135.3 189.7 L136.0 189.4 L136.6 189.0 L137.3 188.6 L138.0 188.3 L138.6 188.0 L139.3 187.7 L140.0 187.5 L140.8 187.3 L141.5 187.1 L142.2 186.9 L143.0 186.8 L143.8 186.7 L144.5 186.6 L145.3 186.6 L146.1 186.6 L146.9 186.6 L147.7 186.7 L148.5 186.8 L149.2 186.9 L150.0 187.1 L150.8 187.3 L151.5 187.5 L152.2 187.8 L153.0 188.1 L153.6 188.5 L154.3 188.8 L155.0 189.2 L155.6 189.6 L156.2 190.1 L156.9 190.5 L157.5 191.0 L158.1 191.5 L158.7 192.0 L159.3 192.5 L159.9 193.0 L160.5 193.5 L161.1 194.0 L161.7 194.5 L162.3 194.9 L162.9 195.4 L163.5 195.9 L164.1 196.3 L164.7 196.8 L165.3 197.3 L165.9 197.7 L166.5 198.2 L167.1 198.7 L167.7 199.2 L168.3 199.7 L168.8 200.2 L169.4 200.7 L169.9 201.3 L170.5 201.8 L171.0 202.4 L171.5 203.0 L172.0 203.5 L172.5 204.1 L173.0 204.7 L173.5 205.3 L174.0 205.9 L174.4 206.5 L174.9 207.1 L175.4 207.7 L175.9 208.3 L176.3 209.0 L176.8 209.6 L177.2 210.2 L177.7 210.8 L178.2 211.5 L178.6 212.1 L179.1 212.7 L179.5 213.3 L180.0 213.9 L180.4 214.6 L180.9 215.2 L181.4 215.8 L181.8 216.4 L182.3 217.0 L182.8 217.6 L183.3 218.2 L183.7 218.8 L184.2 219.4 L184.7 220.0 L185.2 220.6 L185.7 221.2 L186.1 221.8 L186.6 222.4 L187.1 223.0 L187.6 223.6 L188.1 224.2 L188.6 224.7 L189.1 225.3 L189.5 225.9 L190.0 226.5 L190.5 227.1 L191.0 227.6 L191.5 228.2 L192.0 228.8 L192.5 229.4 L193.0 230.0 L193.5 230.5 L194.0 231.1 L194.5 231.7 L195.0 232.3 L195.5 232.8 L196.0 233.4 L196.5 234.0 L196.9 234.5 L197.4 235.1 L197.9 235.7 L198.4 236.3 L198.9 236.8 L199.4 237.4 L199.9 238.0 L200.4 238.6 L200.9 239.2 L201.4 239.7 L201.9 240.3 L202.3 240.9 L202.8 241.5 L203.3 242.1 L203.8 242.7 L204.3 243.2 L204.7 243.8 L205.2 244.4 L205.7 245.0 L206.2 245.6 L206.6 246.2 L207.1 246.8 L207.6 247.4 L208.1 248.0 L208.5 248.6 L209.0 249.2 L209.4 249.8 L209.9 250.4 L210.4 251.1 L210.8 251.7 L211.3 252.3 L211.7 252.9 L212.2 253.6 L212.6 254.2 L213.0 254.8 L213.5 255.5 L213.9 256.1 L214.3 256.7 L214.8 257.4 L215.2 258.0 L215.6 258.7 L216.0 259.3 L216.5 260.0 L216.9 260.6 L217.3 261.3 L217.7 262.0 L218.1 262.6 L218.6 263.3 L219.0 263.9 L219.4 264.6 L219.8 265.3 L220.2 265.9 L220.7 266.6 L221.1 267.3 L221.5 267.9 L221.9 268.6 L222.3 269.2 L222.8 269.9 L223.2 270.5 L223.6 271.2 L224.0 271.9 L224.5 272.5 L224.9 273.2 L225.4 273.8 L225.8 274.4 L226.2 275.1 L226.7 275.7 L227.1 276.3 L227.6 277.0 L228.1 277.6 L228.5 278.2 L229.0 278.8 L229.5 279.4 L229.9 280.0 L230.4 280.7 L230.9 281.2 L231.4 281.8 L231.9 282.4 L232.4 283.0 L232.9 283.6 L233.4 284.2 L233.9 284.7 L234.5 285.3 L235.0 285.9 L235.5 286.4 L236.1 287.0 L236.6 287.5 L237.1 288.0 L237.7 288.6 L238.2 289.1 L238.8 289.6 L239.4 290.2 L239.9 290.7 L240.5 291.2 L241.1 291.7 L241.6 292.2 L242.2 292.7 L242.8 293.2 L243.4 293.7 L244.0 294.2 L244.6 294.6 L245.2 295.1 L245.8 295.6 L246.4 296.1 L247.0 296.5 L247.6 297.0 L248.2 297.4 L248.8 297.9 L249.5 298.3 L250.1 298.8 L250.7 299.2 L251.3 299.6 L252.0 300.1 L252.6 300.5 L253.3 300.9 L253.9 301.3 L254.6 301.7 L255.2 302.1 L255.9 302.5 L256.5 302.9 L257.2 303.3 L257.8 303.7 L258.5 304.1 L259.2 304.5 L259.8 304.8 L260.5 305.2 L261.2 305.6 L261.8 305.9 L262.5 306.3 L263.2 306.6 L263.9 307.0 L264.6 307.3 L265.3 307.7 L265.9 308.0 L266.6 308.3 L267.3 308.6 L268.0 309.0 L268.7 309.3 L269.4 309.6 L270.1 309.9 L270.8 310.2 L271.5 310.5 L272.2 310.8 L272.9 311.1 L273.6 311.4 L274.3 311.7 L275.1 311.9 L275.8 312.2 L276.5 312.5 L277.2 312.7 L277.9 313.0 L278.6 313.3 L279.4 313.5 L280.1 313.8 L280.8 314.0 L281.5 314.3 L282.2 314.5 L283.0 314.7 L283.7 315.0 L284.4 315.2 L285.2 315.4 L285.9 315.6 L286.6 315.8 L287.3 316.1 L288.1 316.3 L288.8 316.5 L289.6 316.7 L290.3 316.9 L291.0 317.1 L291.8 317.2 L292.5 317.4 L293.3 317.6 L294.0 317.8 L294.7 318.0 L295.5 318.1 L296.2 318.3 L297.0 318.5 L297.7 318.6 L298.5 318.8 L299.2 319.0 L300.0 319.1 L300.7 319.3 L301.5 319.4 L302.2 319.6 L303.0 319.7 L303.7 319.8 L304.5 320.0 L305.3 320.1 L306.0 320.2 L306.8 320.4 L307.5 320.5 L308.3 320.6 L309.0 320.7 L309.8 320.8 L310.6 320.9 L311.3 321.1 L312.1 321.2 L312.9 321.3 L313.6 321.4 L314.4 321.5 L315.2 321.6 L315.9 321.7 L316.7 321.8 L317.5 321.8 L318.2 321.9 L319.0 322.0 L319.8 322.1 L320.5 322.2 L321.3 322.3 L322.1 322.3 L322.9 322.4 L323.6 322.5 L324.4 322.5 L325.2 322.6 L325.9 322.7 L326.7 322.7 L327.5 322.8 L328.3 322.9 L329.0 322.9 L329.8 323.0 L330.6 323.0 L331.4 323.1 L332.1 323.1 L332.9 323.2 L333.7 323.2 L334.5 323.2 L335.2 323.3 L336.0 323.3 L336.8 323.4 L337.6 323.4 L338.4 323.4 L339.1 323.5 L339.9 323.5 L340.7 323.5 L341.5 323.6 L342.3 323.6 L343.0 323.6 L343.8 323.6 L344.6 323.7 L345.4 323.7 L346.1 323.7 L346.9 323.7 L347.7 323.7 L348.5 323.8 L349.3 323.8 L350.0 323.8 L350.8 323.8 L351.6 323.8 L352.4 323.8 L353.2 323.8 L353.9 323.9 L354.7 323.9 L355.5 323.9 L356.3 323.9 L357.1 323.9 L357.8 323.9 L358.6 323.9 L359.4 323.9 L360.2 323.9 L360.9 323.9 L361.7 323.9 L362.5 323.9 L363.3 323.9 L364.0 323.9 L364.8 323.9 L365.6 323.9 L366.4 323.9 L367.1 323.9 L367.9 323.9 L368.7 323.9 L369.5 323.9 L370.2 323.9 L371.0 323.9 L371.8 323.9 L372.6 323.9 L373.3 323.9 L374.1 323.9 L374.9 323.8 L375.6 323.8 L376.4 323.8 L377.2 323.8 L378.0 323.8 L378.7 323.8 L379.5 323.8 L380.3 323.8 L381.0 323.8 L381.8 323.8 L382.6 323.8 L383.3 323.8 L384.1 323.8 L384.8 323.8 L385.6 323.8 L386.4 323.8 L387.1 323.8 L387.9 323.8 L388.6 323.8 L389.4 323.8 L390.2 323.8 L390.9 323.8 L391.7 323.8 L392.4 323.8 L393.2 323.8 L393.9 323.8 L394.7 323.8 L395.4 323.8 L396.2 323.8 L396.9 323.8 L397.7 323.8 L398.4 323.8 L399.2 323.8 L399.9 323.8 L400.7 323.8 L401.4 323.8 L402.2 323.8 L402.9 323.8 L403.6 323.9 L404.4 323.9 L405.1 323.9 L405.9 323.9 L406.6 323.9 L407.3 323.9 L408.1 324.0 L408.8 324.0"/>
<path stroke="#fba040" d="M49.5 226.4 L49.5 227.2 L49.6 227.9 L49.6 228.7 L49.6 229.5 L49.7 230.3 L49.7 231.0 L49.8 231.8 L49.9 232.6 L49.9 233.4 L50.0 234.2 L50.1 235.0 L50.2 235.7 L50.3 236.5 L50.4 237.3 L50.5 238.1 L50.6 238.9 L50.7 239.7 L50.9 240.5 L51.0 241.3 L51.1 242.1 L51.2 242.9 L51.4 243.7 L51.5 244.5 L51.7 245.3 L51.8 246.1 L52.0 246.8 L52.1 247.6 L52.3 248.4 L52.4 249.2 L52.6 250.0 L52.7 250.8 L52.9 251.6 L53.1 252.4 L53.2 253.2 L53.4 254.0 L53.5 254.8 L53.7 255.6 L53.9 256.4 L54.0 257.2 L54.2 258.0 L54.4 258.8 L54.6 259.6 L54.7 260.4 L54.9 261.2 L55.1 262.0 L55.2 262.8 L55.4 263.5 L55.5 264.3 L55.7 265.1 L55.9 265.9 L56.0 266.7 L56.2 267.5 L56.3 268.2 L56.5 269.0 L56.6 269.8 L56.8 270.6 L56.9 271.4 L57.1 272.1 L57.2 272.9 L57.3 273.7 L57.5 274.4 L57.6 275.2 L57.7 276.0 L57.9 276.7 L58.0 277.5 L58.1 278.3 L58.3 279.0 L58.4 279.8 L58.6 280.6 L58.7 281.3 L58.9 282.1 L59.0 282.9 L59.2 283.6 L59.3 284.4 L59.5 285.2 L59.7 286.0 L59.9 286.7 L60.1 287.5 L60.3 288.3 L60.5 289.1 L60.7 289.9 L60.9 290.7 L61.1 291.5 L61.4 292.3 L61.7 293.1 L61.9 293.9 L62.2 294.7 L62.5 295.5 L62.8 296.3 L63.1 297.1 L63.5 297.9 L63.8 298.8 L64.2 299.6 L64.6 300.4 L65.0 301.1 L65.4 301.7 L65.9 302.3 L66.4 302.8 L66.9 303.1 L67.4 303.3 L68.0 303.4 L68.6 303.3 L69.3 303.0 L69.9 302.7 L70.6 302.2 L71.2 301.7 L71.9 301.1 L72.5 300.5 L73.1 299.9 L73.7 299.2 L74.2 298.6 L74.7 297.9 L75.2 297.3 L75.7 296.6 L76.2 295.9 L76.6 295.2 L77.1 294.6 L77.5 293.9 L78.0 293.2 L78.4 292.5 L78.8 291.8 L79.2 291.1 L79.7 290.4 L80.1 289.7 L80.5 289.0 L80.9 288.3 L81.3 287.6 L81.7 286.9 L82.0 286.2 L82.4 285.5 L82.8 284.8 L83.2 284.1 L83.5 283.4 L83.9 282.7 L84.3 282.0 L84.6 281.3 L85.0 280.6 L85.3 279.9 L85.7 279.1 L86.0 278.4 L86.4 277.7 L86.7 277.0 L87.0 276.3 L87.4 275.6 L87.7 274.9 L88.0 274.1 L88.4 273.4 L88.7 272.7 L89.0 272.0 L89.3 271.3 L89.7 270.5 L90.0 269.8 L90.3 269.1 L90.6 268.4 L90.9 267.7 L91.2 266.9 L91.5 266.2 L91.8 265.5 L92.2 264.8 L92.5 264.0 L92.8 263.3 L93.1 262.6 L93.4 261.8 L93.7 261.1 L94.0 260.4 L94.3 259.7 L94.6 258.9 L94.9 258.2 L95.2 257.5 L95.5 256.7 L95.9 256.0 L96.2 255.3 L96.5 254.5 L96.8 253.8 L97.1 253.1 L97.4 252.4 L97.7 251.6 L98.0 250.9 L98.4 250.2 L98.7 249.4 L99.0 248.7 L99.3 248.0 L99.6 247.2 L99.9 246.5 L100.2 245.8 L100.6 245.0 L100.9 244.3 L101.2 243.5 L101.5 242.8 L101.8 242.1 L102.1 241.3 L102.5 240.6 L102.8 239.9 L103.1 239.1 L103.4 238.4 L103.7 237.7 L104.0 236.9 L104.4 236.2 L104.7 235.5 L105.0 234.7 L105.3 234.0 L105.6 233.2 L105.9 232.5 L106.3 231.8 L106.6 231.0 L106.9 230.3 L107.2 229.6 L107.5 228.8 L107.8 228.1 L108.2 227.3 L108.5 226.6 L108.8 225.9 L109.1 225.1 L109.4 224.4 L109.7 223.7 L110.1 222.9 L110.4 222.2 L110.7 221.5 L111.0 220.7 L111.3 220.0 L111.6 219.2 L111.9 218.5 L112.2 217.8 L112.6 217.0 L112.9 216.3 L113.2 215.6 L113.5 214.8 L113.8 214.1 L114.1 213.4 L114.4 212.6 L114.7 211.9 L115.1 211.1 L115.4 210.4 L115.7 209.7 L116.0 209.0 L116.3 208.2 L116.6 207.5 L117.0 206.8 L117.3 206.0 L117.6 205.3 L118.0 204.6 L118.3 203.9 L118.6 203.2 L119.0 202.4 L119.3 201.7 L119.7 201.0 L120.1 200.3 L120.4 199.6 L120.8 198.9 L121.2 198.2 L121.6 197.5 L122.0 196.8 L122.4 196.1 L122.8 195.4 L123.2 194.8 L123.6 194.1 L124.0 193.4 L124.5 192.7 L124.9 192.1 L125.3 191.4 L125.8 190.7 L126.3 190.1 L126.8 189.4 L127.3 188.8 L127.8 188.1 L128.3 187.5 L128.8 186.9 L129.3 186.2 L129.9 185.6 L130.4 185.0 L131.0 184.5 L131.6 183.9 L132.1 183.3 L132.7 182.8 L133.4 182.3 L134.0 181.8 L134.6 181.3 L135.3 180.9 L135.9 180.4 L136.6 180.0 L137.3 179.7 L138.0 179.3 L138.7 179.0 L139.4 178.8 L140.2 178.5 L140.9 178.3 L141.7 178.2 L142.5 178.0 L143.3 178.0 L144.1 177.9 L144.9 177.9 L145.7 178.0 L146.6 178.1 L147.4 178.2 L148.2 178.3 L149.0 178.6 L149.8 178.8 L150.6 179.1 L151.3 179.4 L152.0 179.8 L152.7 180.1 L153.4 180.6 L154.0 181.0 L154.7 181.5 L155.3 181.9 L156.0 182.4 L156.6 182.9 L157.2 183.3 L157.9 183.8 L158.5 184.2 L159.2 184.7 L159.9 185.1 L160.5 185.5 L161.2 185.9 L161.8 186.4 L162.5 186.9 L163.1 187.4 L163.7 187.9 L164.2 188.4 L164.8 189.0 L165.4 189.6 L165.9 190.2 L166.4 190.8 L166.9 191.4 L167.4 192.0 L167.9 192.6 L168.4 193.2 L168.9 193.9 L169.4 194.5 L169.9 195.1 L170.4 195.8 L170.9 196.4 L171.4 197.0 L171.8 197.7 L172.3 198.3 L172.8 199.0 L173.3 199.6 L173.7 200.3 L174.2 200.9 L174.7 201.6 L175.1 202.2 L175.6 202.9 L176.0 203.6 L176.5 204.2 L177.0 204.9 L177.4 205.5 L177.9 206.2 L178.3 206.8 L178.8 207.5 L179.2 208.2 L179.7 208.8 L180.1 209.5 L180.6 210.1 L181.1 210.8 L181.5 211.4 L182.0 212.1 L182.4 212.7 L182.9 213.4 L183.4 214.0 L183.8 214.7 L184.3 215.3 L184.8 216.0 L185.2 216.6 L185.7 217.3 L186.2 217.9 L186.6 218.6 L187.1 219.2 L187.6 219.9 L188.0 220.5 L188.5 221.1 L189.0 221.8 L189.4 222.4 L189.9 223.1 L190.4 223.7 L190.8 224.3 L191.3 225.0 L191.8 225.6 L192.3 226.3 L192.7 226.9 L193.2 227.5 L193.7 228.2 L194.2 228.8 L194.6 229.4 L195.1 230.1 L195.6 230.7 L196.1 231.3 L196.5 232.0 L197.0 232.6 L197.5 233.3 L198.0 233.9 L198.4 234.5 L198.9 235.2 L199.4 235.8 L199.9 236.4 L200.3 237.1 L200.8 237.7 L201.3 238.3 L201.8 239.0 L202.2 239.6 L202.7 240.2 L203.2 240.9 L203.7 241.5 L204.1 242.2 L204.6 242.8 L205.1 243.4 L205.6 244.1 L206.0 244.7 L206.5 245.3 L207.0 246.0 L207.5 246.6 L207.9 247.3 L208.4 247.9 L208.9 248.6 L209.4 249.2 L209.8 249.8 L210.3 250.5 L210.8 251.1 L211.2 251.8 L211.7 252.4 L212.2 253.1 L212.6 253.7 L213.1 254.4 L213.6 255.0 L214.0 255.7 L214.5 256.3 L215.0 257.0 L215.4 257.6 L215.9 258.3 L216.4 258.9 L216.8 259.6 L217.3 260.2 L217.8 260.9 L218.2 261.5 L218.7 262.2 L219.2 262.8 L219.6 263.5 L220.1 264.1 L220.6 264.8 L221.0 265.4 L221.5 266.1 L222.0 266.7 L222.5 267.4 L222.9 268.0 L223.4 268.7 L223.9 269.3 L224.4 270.0 L224.8 270.6 L225.3 271.3 L225.8 271.9 L226.3 272.5 L226.8 273.2 L227.2 273.8 L227.7 274.5 L228.2 275.1 L228.7 275.7 L229.2 276.4 L229.7 277.0 L230.2 277.6 L230.7 278.2 L231.2 278.9 L231.7 279.5 L232.2 280.1 L232.7 280.7 L233.2 281.4 L233.7 282.0 L234.2 282.6 L234.8 283.2 L235.3 283.8 L235.8 284.4 L236.3 285.0 L236.9 285.6 L237.4 286.2 L237.9 286.8 L238.5 287.4 L239.0 287.9 L239.6 288.5 L240.1 289.1 L240.7 289.7 L241.2 290.2 L241.8 290.8 L242.3 291.4 L242.9 291.9 L243.5 292.5 L244.0 293.0 L244.6 293.6 L245.2 294.1 L245.8 294.6 L246.4 295.2 L247.0 295.7 L247.6 296.2 L248.2 296.7 L248.8 297.2 L249.4 297.7 L250.0 298.2 L250.6 298.7 L251.2 299.2 L251.9 299.7 L252.5 300.1 L253.1 300.6 L253.8 301.1 L254.4 301.5 L255.1 302.0 L255.7 302.4 L256.4 302.8 L257.1 303.3 L257.7 303.7 L258.4 304.1 L259.1 304.5 L259.8 304.9 L260.5 305.3 L261.2 305.7 L261.9 306.1 L262.6 306.4 L263.3 306.8 L264.0 307.1 L264.8 307.5 L265.5 307.8 L266.2 308.2 L267.0 308.5 L267.7 308.8 L268.5 309.1 L269.2 309.4 L270.0 309.7 L270.7 310.0 L271.5 310.3 L272.2 310.6 L273.0 310.9 L273.7 311.2 L274.5 311.5 L275.3 311.7 L276.0 312.0 L276.8 312.3 L277.5 312.5 L278.3 312.8 L279.1 313.1 L279.8 313.3 L280.6 313.6 L281.4 313.8 L282.1 314.0 L282.9 314.3 L283.7 314.5 L284.4 314.8 L285.2 315.0 L286.0 315.2 L286.7 315.4 L287.5 315.6 L288.3 315.9 L289.1 316.1 L289.8 316.3 L290.6 316.5 L291.4 316.7 L292.1 316.9 L292.9 317.1 L293.7 317.3 L294.5 317.5 L295.2 317.6 L296.0 317.8 L296.8 318.0 L297.6 318.2 L298.3 318.4 L299.1 318.5 L299.9 318.7 L300.7 318.9 L301.5 319.0 L302.2 319.2 L303.0 319.3 L303.8 319.5 L304.6 319.6 L305.4 319.8 L306.1 319.9 L306.9 320.1 L307.7 320.2 L308.5 320.4 L309.3 320.5 L310.0 320.6 L310.8 320.7 L311.6 320.9 L312.4 321.0 L313.2 321.1 L314.0 321.2 L314.8 321.4 L315.5 321.5 L316.3 321.6 L317.1 321.7 L317.9 321.8 L318.7 321.9 L319.5 322.0 L320.3 322.1 L321.0 322.2 L321.8 322.3 L322.6 322.4 L323.4 322.5 L324.2 322.6 L325.0 322.6 L325.8 322.7 L326.6 322.8 L327.4 322.9 L328.2 323.0 L328.9 323.0 L329.7 323.1 L330.5 323.2 L331.3 323.2 L332.1 323.3 L332.9 323.4 L333.7 323.4 L334.5 323.5 L335.3 323.6 L336.1 323.6 L336.9 323.7 L337.7 323.7 L338.5 323.8 L339.3 323.8 L340.1 323.9 L340.8 323.9 L341.6 324.0 L342.4 324.0 L343.2 324.1 L344.0 324.1 L344.8 324.1 L345.6 324.2 L346.4 324.2 L347.2 324.2 L348.0 324.3 L348.8 324.3 L349.6 324.3 L350.4 324.4 L351.2 324.4 L352.0 324.4 L352.8 324.4 L353.6 324.4 L354.4 324.5 L355.2 324.5 L356.0 324.5 L356.8 324.5 L357.6 324.5 L358.4 324.6 L359.2 324.6 L360.0 324.6 L360.8 324.6 L361.6 324.6 L362.4 324.6 L363.2 324.6 L364.0 324.6 L364.8 324.6 L365.6 324.6 L366.4 324.6 L367.2 324.6 L368.0 324.6 L368.8 324.6 L369.6 324.6 L370.4 324.6 L371.2 324.6 L372.0 324.6 L372.8 324.6 L373.6 324.6 L374.4 324.6 L375.2 324.6 L376.0 324.6 L376.8 324.6 L377.6 324.6 L378.4 324.6 L379.2 324.6 L380.0 324.6 L380.8 324.5 L381.6 324.5 L382.4 324.5 L383.2 324.5 L384.0 324.5 L384.8 324.5 L385.6 324.5 L386.4 324.5 L387.2 324.4 L388.0 324.4 L388.8 324.4 L389.6 324.4 L390.4 324.4 L391.2 324.4 L392.0 324.3 L392.8 324.3 L393.6 324.3 L394.4 324.3 L395.2 324.3 L396.0 324.3 L396.8 324.2 L397.6 324.2 L398.4 324.2 L399.2 324.2 L400.0 324.2 L400.8 324.2 L401.6 324.1 L402.4 324.1 L403.2 324.1 L404.0 324.1 L404.8 324.1 L405.6 324.1 L406.4 324.0 L407.2 324.0 L408.0 324.0 L408.8 324.0"/>
<path stroke="#2a5590" d="M49.5 240.0 L49.6 240.7 L49.7 241.5 L49.9 242.3 L50.0 243.0 L50.1 243.8 L50.2 244.5 L50.3 245.3 L50.4 246.0 L50.6 246.8 L50.7 247.5 L50.8 248.3 L50.9 249.1 L51.0 249.8 L51.1 250.6 L51.2 251.3 L51.4 252.1 L51.5 252.9 L51.6 253.6 L51.7 254.4 L51.8 255.1 L51.9 255.9 L52.1 256.7 L52.2 257.4 L52.3 258.2 L52.4 259.0 L52.5 259.7 L52.6 260.5 L52.8 261.2 L52.9 262.0 L53.0 262.8 L53.1 263.5 L53.2 264.3 L53.4 265.0 L53.5 265.8 L53.6 266.6 L53.7 267.3 L53.9 268.1 L54.0 268.8 L54.1 269.6 L54.2 270.3 L54.4 271.1 L54.5 271.8 L54.6 272.6 L54.8 273.3 L54.9 274.1 L55.1 274.8 L55.2 275.6 L55.3 276.3 L55.5 277.1 L55.6 277.8 L55.8 278.6 L55.9 279.3 L56.1 280.0 L56.2 280.8 L56.4 281.5 L56.5 282.2 L56.7 283.0 L56.9 283.7 L57.0 284.4 L57.2 285.2 L57.4 285.9 L57.6 286.6 L57.8 287.4 L57.9 288.1 L58.2 288.8 L58.4 289.6 L58.6 290.3 L58.8 291.0 L59.0 291.8 L59.3 292.5 L59.5 293.3 L59.8 294.0 L60.1 294.7 L60.3 295.5 L60.6 296.2 L60.9 297.0 L61.2 297.7 L61.6 298.5 L61.9 299.2 L62.3 299.9 L62.7 300.6 L63.1 301.3 L63.5 302.0 L64.0 302.6 L64.5 303.2 L65.0 303.8 L65.5 304.3 L66.1 304.8 L66.7 305.2 L67.3 305.5 L68.0 305.7 L68.6 305.9 L69.3 305.8 L69.9 305.7 L70.6 305.5 L71.3 305.2 L72.0 304.8 L72.6 304.3 L73.3 303.8 L73.9 303.3 L74.5 302.7 L75.1 302.1 L75.7 301.5 L76.2 300.9 L76.7 300.2 L77.2 299.6 L77.7 298.9 L78.1 298.3 L78.6 297.6 L79.0 297.0 L79.4 296.3 L79.8 295.6 L80.2 295.0 L80.6 294.3 L81.0 293.6 L81.4 292.9 L81.7 292.3 L82.1 291.6 L82.5 290.9 L82.9 290.3 L83.2 289.6 L83.6 288.9 L84.0 288.2 L84.3 287.6 L84.7 286.9 L85.1 286.2 L85.4 285.6 L85.8 284.9 L86.1 284.2 L86.5 283.6 L86.8 282.9 L87.2 282.2 L87.5 281.5 L87.8 280.9 L88.2 280.2 L88.5 279.5 L88.8 278.9 L89.2 278.2 L89.5 277.5 L89.8 276.8 L90.2 276.2 L90.5 275.5 L90.8 274.8 L91.1 274.1 L91.5 273.5 L91.8 272.8 L92.1 272.1 L92.4 271.4 L92.7 270.7 L93.0 270.0 L93.4 269.4 L93.7 268.7 L94.0 268.0 L94.3 267.3 L94.6 266.6 L94.9 265.9 L95.2 265.2 L95.5 264.5 L95.8 263.8 L96.1 263.2 L96.4 262.5 L96.7 261.8 L97.1 261.1 L97.4 260.4 L97.7 259.6 L98.0 258.9 L98.3 258.2 L98.6 257.5 L98.9 256.8 L99.2 256.1 L99.5 255.4 L99.8 254.7 L100.1 254.0 L100.4 253.2 L100.7 252.5 L101.0 251.8 L101.3 251.1 L101.6 250.3 L101.9 249.6 L102.2 248.9 L102.5 248.2 L102.8 247.4 L103.0 246.7 L103.3 246.0 L103.6 245.3 L103.9 244.5 L104.2 243.8 L104.5 243.1 L104.8 242.4 L105.1 241.6 L105.4 240.9 L105.7 240.2 L106.0 239.5 L106.3 238.7 L106.6 238.0 L106.9 237.3 L107.2 236.6 L107.5 235.9 L107.8 235.1 L108.0 234.4 L108.3 233.7 L108.6 233.0 L108.9 232.3 L109.2 231.6 L109.5 230.9 L109.8 230.1 L110.1 229.4 L110.4 228.7 L110.6 228.0 L110.9 227.3 L111.2 226.6 L111.5 226.0 L111.8 225.3 L112.1 224.6 L112.4 223.9 L112.6 223.2 L112.9 222.5 L113.2 221.9 L113.5 221.2 L113.8 220.5 L114.1 219.8 L114.3 219.2 L114.6 218.5 L114.9 217.9 L115.2 217.2 L115.5 216.5 L115.8 215.9 L116.1 215.2 L116.4 214.6 L116.7 213.9 L117.0 213.3 L117.3 212.6 L117.7 212.0 L118.0 211.3 L118.3 210.7 L118.7 210.0 L119.0 209.4 L119.4 208.7 L119.8 208.1 L120.1 207.4 L120.5 206.8 L120.9 206.1 L121.3 205.4 L121.8 204.8 L122.2 204.1 L122.6 203.4 L123.1 202.8 L123.5 202.1 L124.0 201.4 L124.5 200.8 L125.0 200.1 L125.5 199.5 L126.0 198.8 L126.5 198.2 L127.1 197.5 L127.6 196.9 L128.2 196.3 L128.7 195.7 L129.3 195.1 L129.9 194.5 L130.5 194.0 L131.1 193.4 L131.7 192.9 L132.3 192.4 L132.9 191.9 L133.5 191.4 L134.2 191.0 L134.8 190.6 L135.5 190.2 L136.1 189.8 L136.8 189.4 L137.5 189.1 L138.1 188.8 L138.8 188.6 L139.5 188.3 L140.2 188.1 L140.9 187.9 L141.6 187.8 L142.3 187.7 L143.1 187.6 L143.8 187.6 L144.5 187.6 L145.2 187.6 L146.0 187.7 L146.7 187.8 L147.5 187.9 L148.2 188.1 L148.9 188.3 L149.7 188.5 L150.4 188.8 L151.1 189.0 L151.9 189.3 L152.6 189.6 L153.3 190.0 L154.0 190.3 L154.8 190.7 L155.5 191.1 L156.2 191.5 L156.9 191.9 L157.5 192.3 L158.2 192.8 L158.9 193.2 L159.5 193.7 L160.2 194.1 L160.8 194.6 L161.4 195.1 L162.0 195.5 L162.6 196.0 L163.2 196.5 L163.8 197.0 L164.3 197.5 L164.9 198.0 L165.4 198.5 L166.0 199.0 L166.5 199.5 L167.0 200.0 L167.6 200.6 L168.1 201.1 L168.6 201.6 L169.1 202.1 L169.7 202.7 L170.2 203.2 L170.7 203.8 L171.2 204.3 L171.7 204.9 L172.3 205.5 L172.8 206.0 L173.3 206.6 L173.8 207.2 L174.3 207.7 L174.8 208.3 L175.3 208.9 L175.8 209.5 L176.3 210.1 L176.8 210.7 L177.3 211.2 L177.8 211.8 L178.3 212.4 L178.8 213.0 L179.3 213.6 L179.8 214.2 L180.3 214.8 L180.8 215.4 L181.3 216.0 L181.8 216.6 L182.3 217.2 L182.8 217.8 L183.2 218.4 L183.7 219.0 L184.2 219.6 L184.7 220.2 L185.1 220.8 L185.6 221.4 L186.1 222.0 L186.6 222.6 L187.0 223.2 L187.5 223.8 L188.0 224.4 L188.4 225.0 L188.9 225.7 L189.4 226.3 L189.8 226.9 L190.3 227.5 L190.7 228.1 L191.2 228.7 L191.7 229.3 L192.1 229.9 L192.6 230.5 L193.0 231.1 L193.5 231.7 L193.9 232.4 L194.4 233.0 L194.8 233.6 L195.3 234.2 L195.7 234.8 L196.2 235.4 L196.6 236.0 L197.1 236.6 L197.5 237.2 L198.0 237.9 L198.4 238.5 L198.9 239.1 L199.3 239.7 L199.8 240.3 L200.2 240.9 L200.7 241.5 L201.1 242.2 L201.6 242.8 L202.0 243.4 L202.5 244.0 L202.9 244.6 L203.4 245.2 L203.8 245.9 L204.2 246.5 L204.7 247.1 L205.1 247.7 L205.6 248.3 L206.0 248.9 L206.5 249.5 L206.9 250.2 L207.4 250.8 L207.8 251.4 L208.3 252.0 L208.7 252.6 L209.2 253.2 L209.6 253.9 L210.1 254.5 L210.5 255.1 L211.0 255.7 L211.4 256.3 L211.9 256.9 L212.4 257.6 L212.8 258.2 L213.3 258.8 L213.7 259.4 L214.2 260.0 L214.6 260.6 L215.1 261.3 L215.6 261.9 L216.0 262.5 L216.5 263.1 L217.0 263.7 L217.4 264.3 L217.9 264.9 L218.4 265.6 L218.8 266.2 L219.3 266.8 L219.8 267.4 L220.2 268.0 L220.7 268.6 L221.2 269.2 L221.7 269.8 L222.1 270.4 L222.6 271.0 L223.1 271.6 L223.6 272.2 L224.1 272.8 L224.6 273.4 L225.0 274.1 L225.5 274.7 L226.0 275.2 L226.5 275.8 L227.0 276.4 L227.5 277.0 L228.0 277.6 L228.5 278.2 L229.0 278.8 L229.5 279.4 L229.9 280.0 L230.4 280.6 L230.9 281.2 L231.5 281.7 L232.0 282.3 L232.5 282.9 L233.0 283.5 L233.5 284.1 L234.0 284.6 L234.5 285.2 L235.0 285.8 L235.5 286.3 L236.1 286.9 L236.6 287.5 L237.1 288.0 L237.6 288.6 L238.2 289.1 L238.7 289.7 L239.2 290.2 L239.8 290.8 L240.3 291.3 L240.8 291.8 L241.4 292.4 L241.9 292.9 L242.5 293.4 L243.0 293.9 L243.6 294.5 L244.2 295.0 L244.7 295.5 L245.3 296.0 L245.9 296.5 L246.4 297.0 L247.0 297.5 L247.6 297.9 L248.2 298.4 L248.8 298.9 L249.4 299.4 L250.0 299.8 L250.6 300.3 L251.2 300.7 L251.8 301.2 L252.4 301.6 L253.0 302.0 L253.6 302.5 L254.3 302.9 L254.9 303.3 L255.5 303.7 L256.2 304.1 L256.8 304.5 L257.5 304.9 L258.1 305.3 L258.8 305.7 L259.5 306.0 L260.1 306.4 L260.8 306.8 L261.5 307.1 L262.2 307.5 L262.9 307.8 L263.6 308.1 L264.3 308.4 L265.0 308.7 L265.7 309.1 L266.4 309.4 L267.1 309.7 L267.8 309.9 L268.6 310.2 L269.3 310.5 L270.0 310.8 L270.7 311.0 L271.5 311.3 L272.2 311.6 L272.9 311.8 L273.7 312.1 L274.4 312.3 L275.2 312.6 L275.9 312.8 L276.6 313.1 L277.4 313.3 L278.1 313.5 L278.8 313.8 L279.6 314.0 L280.3 314.2 L281.1 314.4 L281.8 314.7 L282.5 314.9 L283.3 315.1 L284.0 315.3 L284.8 315.5 L285.5 315.7 L286.3 315.9 L287.0 316.1 L287.7 316.3 L288.5 316.5 L289.2 316.7 L290.0 316.9 L290.7 317.1 L291.5 317.3 L292.2 317.4 L293.0 317.6 L293.7 317.8 L294.5 318.0 L295.2 318.1 L295.9 318.3 L296.7 318.4 L297.4 318.6 L298.2 318.8 L298.9 318.9 L299.7 319.1 L300.4 319.2 L301.2 319.4 L301.9 319.5 L302.7 319.7 L303.4 319.8 L304.2 319.9 L304.9 320.1 L305.7 320.2 L306.4 320.3 L307.2 320.5 L307.9 320.6 L308.7 320.7 L309.4 320.8 L310.2 321.0 L310.9 321.1 L311.7 321.2 L312.5 321.3 L313.2 321.4 L314.0 321.5 L314.7 321.6 L315.5 321.7 L316.2 321.8 L317.0 321.9 L317.7 322.0 L318.5 322.1 L319.2 322.2 L320.0 322.3 L320.8 322.4 L321.5 322.5 L322.3 322.6 L323.0 322.6 L323.8 322.7 L324.5 322.8 L325.3 322.9 L326.1 322.9 L326.8 323.0 L327.6 323.1 L328.3 323.2 L329.1 323.2 L329.9 323.3 L330.6 323.4 L331.4 323.4 L332.1 323.5 L332.9 323.5 L333.7 323.6 L334.4 323.7 L335.2 323.7 L335.9 323.8 L336.7 323.8 L337.5 323.9 L338.2 323.9 L339.0 324.0 L339.7 324.0 L340.5 324.0 L341.3 324.1 L342.0 324.1 L342.8 324.2 L343.6 324.2 L344.3 324.2 L345.1 324.3 L345.8 324.3 L346.6 324.3 L347.4 324.4 L348.1 324.4 L348.9 324.4 L349.7 324.4 L350.4 324.5 L351.2 324.5 L352.0 324.5 L352.7 324.5 L353.5 324.5 L354.2 324.6 L355.0 324.6 L355.8 324.6 L356.5 324.6 L357.3 324.6 L358.1 324.6 L358.8 324.7 L359.6 324.7 L360.4 324.7 L361.1 324.7 L361.9 324.7 L362.7 324.7 L363.4 324.7 L364.2 324.7 L365.0 324.7 L365.7 324.7 L366.5 324.7 L367.3 324.7 L368.0 324.7 L368.8 324.7 L369.6 324.7 L370.3 324.7 L371.1 324.7 L371.9 324.7 L372.6 324.7 L373.4 324.7 L374.2 324.7 L374.9 324.7 L375.7 324.7 L376.5 324.7 L377.3 324.7 L378.0 324.6 L378.8 324.6 L379.6 324.6 L380.3 324.6 L381.1 324.6 L381.9 324.6 L382.6 324.6 L383.4 324.6 L384.2 324.6 L384.9 324.5 L385.7 324.5 L386.5 324.5 L387.2 324.5 L388.0 324.5 L388.8 324.5 L389.6 324.4 L390.3 324.4 L391.1 324.4 L391.9 324.4 L392.6 324.4 L393.4 324.4 L394.2 324.3 L394.9 324.3 L395.7 324.3 L396.5 324.3 L397.3 324.3 L398.0 324.3 L398.8 324.2 L399.6 324.2 L400.3 324.2 L401.1 324.2 L401.9 324.2 L402.6 324.1 L403.4 324.1 L404.2 324.1 L405.0 324.1 L405.7 324.1 L406.5 324.1 L407.3 324.0 L408.0 324.0 L408.8 324.0"/>
<path stroke="#8c3a40" d="M49.5 243.0 L49.6 243.7 L49.8 244.5 L49.9 245.2 L50.0 245.9 L50.2 246.7 L50.3 247.4 L50.4 248.2 L50.6 248.9 L50.7 249.7 L50.8 250.4 L51.0 251.2 L51.1 251.9 L51.2 252.6 L51.3 253.4 L51.5 254.1 L51.6 254.9 L51.7 255.7 L51.8 256.4 L51.9 257.2 L52.1 257.9 L52.2 258.7 L52.3 259.4 L52.4 260.2 L52.6 260.9 L52.7 261.7 L52.8 262.4 L52.9 263.2 L53.0 263.9 L53.2 264.7 L53.3 265.4 L53.4 266.2 L53.5 266.9 L53.7 267.7 L53.8 268.4 L53.9 269.2 L54.0 269.9 L54.2 270.7 L54.3 271.4 L54.4 272.1 L54.5 272.9 L54.7 273.6 L54.8 274.3 L54.9 275.1 L55.1 275.8 L55.2 276.5 L55.4 277.3 L55.5 278.0 L55.6 278.7 L55.8 279.4 L55.9 280.2 L56.1 280.9 L56.2 281.6 L56.4 282.3 L56.6 283.0 L56.7 283.8 L56.9 284.5 L57.1 285.2 L57.2 285.9 L57.4 286.6 L57.6 287.3 L57.8 288.1 L58.0 288.8 L58.2 289.5 L58.4 290.2 L58.6 290.9 L58.9 291.7 L59.1 292.4 L59.4 293.2 L59.6 293.9 L59.9 294.6 L60.2 295.4 L60.4 296.1 L60.7 296.9 L61.0 297.6 L61.4 298.4 L61.7 299.1 L62.1 299.9 L62.4 300.6 L62.8 301.3 L63.3 301.9 L63.7 302.6 L64.2 303.2 L64.7 303.7 L65.2 304.2 L65.8 304.7 L66.3 305.1 L66.9 305.4 L67.5 305.7 L68.2 305.8 L68.8 305.9 L69.5 305.8 L70.2 305.7 L70.8 305.4 L71.5 305.1 L72.1 304.8 L72.8 304.3 L73.4 303.8 L74.0 303.3 L74.6 302.8 L75.2 302.2 L75.8 301.6 L76.3 301.0 L76.8 300.4 L77.3 299.8 L77.7 299.2 L78.2 298.5 L78.6 297.9 L79.0 297.2 L79.4 296.5 L79.8 295.9 L80.2 295.2 L80.6 294.5 L81.0 293.9 L81.4 293.2 L81.7 292.5 L82.1 291.9 L82.5 291.2 L82.9 290.5 L83.2 289.8 L83.6 289.2 L84.0 288.5 L84.3 287.8 L84.7 287.2 L85.0 286.5 L85.4 285.8 L85.7 285.2 L86.1 284.5 L86.4 283.9 L86.8 283.2 L87.1 282.5 L87.5 281.9 L87.8 281.2 L88.1 280.5 L88.5 279.9 L88.8 279.2 L89.2 278.5 L89.5 277.9 L89.8 277.2 L90.1 276.5 L90.5 275.9 L90.8 275.2 L91.1 274.5 L91.5 273.9 L91.8 273.2 L92.1 272.5 L92.4 271.9 L92.7 271.2 L93.1 270.5 L93.4 269.8 L93.7 269.2 L94.0 268.5 L94.3 267.8 L94.6 267.2 L94.9 266.5 L95.2 265.8 L95.6 265.1 L95.9 264.4 L96.2 263.8 L96.5 263.1 L96.8 262.4 L97.1 261.7 L97.4 261.0 L97.7 260.3 L98.0 259.7 L98.3 259.0 L98.6 258.3 L98.9 257.6 L99.2 256.9 L99.5 256.2 L99.8 255.5 L100.1 254.8 L100.4 254.1 L100.7 253.4 L101.0 252.7 L101.3 252.0 L101.6 251.3 L101.9 250.6 L102.2 249.9 L102.5 249.2 L102.8 248.5 L103.1 247.8 L103.4 247.1 L103.7 246.4 L104.0 245.7 L104.3 245.0 L104.6 244.3 L104.8 243.5 L105.1 242.8 L105.4 242.1 L105.7 241.4 L106.0 240.7 L106.3 240.0 L106.6 239.3 L106.9 238.6 L107.2 237.9 L107.5 237.2 L107.8 236.5 L108.1 235.8 L108.4 235.1 L108.6 234.4 L108.9 233.7 L109.2 233.0 L109.5 232.3 L109.8 231.6 L110.1 230.9 L110.4 230.2 L110.7 229.5 L111.0 228.8 L111.3 228.1 L111.6 227.4 L111.9 226.7 L112.2 226.0 L112.4 225.3 L112.7 224.6 L113.0 223.9 L113.3 223.3 L113.6 222.6 L113.9 221.9 L114.2 221.2 L114.5 220.5 L114.8 219.9 L115.1 219.2 L115.4 218.5 L115.7 217.8 L116.0 217.2 L116.3 216.5 L116.6 215.9 L116.9 215.2 L117.2 214.5 L117.6 213.9 L117.9 213.2 L118.2 212.6 L118.6 211.9 L118.9 211.3 L119.3 210.7 L119.7 210.0 L120.0 209.4 L120.4 208.7 L120.8 208.1 L121.2 207.5 L121.6 206.9 L122.1 206.2 L122.5 205.6 L122.9 205.0 L123.4 204.4 L123.9 203.8 L124.4 203.2 L124.9 202.6 L125.4 202.0 L125.9 201.4 L126.4 200.8 L127.0 200.2 L127.5 199.7 L128.1 199.1 L128.6 198.6 L129.2 198.0 L129.8 197.5 L130.4 197.0 L131.0 196.5 L131.6 196.0 L132.3 195.6 L132.9 195.1 L133.6 194.7 L134.2 194.3 L134.9 193.9 L135.5 193.6 L136.2 193.2 L136.9 192.9 L137.6 192.6 L138.3 192.3 L139.0 192.1 L139.7 191.9 L140.4 191.7 L141.1 191.5 L141.8 191.4 L142.5 191.3 L143.3 191.2 L144.0 191.1 L144.7 191.1 L145.5 191.1 L146.2 191.2 L146.9 191.2 L147.7 191.3 L148.4 191.5 L149.2 191.6 L149.9 191.8 L150.6 192.0 L151.4 192.2 L152.1 192.4 L152.8 192.7 L153.5 193.0 L154.3 193.3 L155.0 193.6 L155.7 193.9 L156.4 194.3 L157.0 194.7 L157.7 195.1 L158.4 195.5 L159.0 195.9 L159.7 196.3 L160.3 196.8 L160.9 197.2 L161.5 197.7 L162.1 198.2 L162.7 198.7 L163.3 199.2 L163.8 199.7 L164.4 200.2 L164.9 200.7 L165.4 201.2 L165.9 201.7 L166.5 202.3 L167.0 202.8 L167.5 203.4 L168.0 203.9 L168.5 204.5 L169.0 205.0 L169.5 205.6 L170.0 206.1 L170.5 206.7 L171.0 207.3 L171.5 207.8 L172.0 208.4 L172.5 209.0 L173.0 209.6 L173.5 210.1 L173.9 210.7 L174.4 211.3 L174.9 211.9 L175.4 212.5 L175.9 213.1 L176.3 213.6 L176.8 214.2 L177.3 214.8 L177.8 215.4 L178.3 216.0 L178.7 216.6 L179.2 217.2 L179.7 217.8 L180.1 218.4 L180.6 219.0 L181.1 219.6 L181.6 220.2 L182.0 220.8 L182.5 221.4 L183.0 221.9 L183.4 222.5 L183.9 223.1 L184.4 223.7 L184.8 224.3 L185.3 224.9 L185.7 225.5 L186.2 226.1 L186.7 226.7 L187.1 227.3 L187.6 227.9 L188.1 228.5 L188.5 229.1 L189.0 229.7 L189.4 230.3 L189.9 230.9 L190.4 231.5 L190.8 232.0 L191.3 232.6 L191.7 233.2 L192.2 233.8 L192.7 234.4 L193.1 235.0 L193.6 235.6 L194.0 236.2 L194.5 236.8 L195.0 237.4 L195.4 238.0 L195.9 238.6 L196.3 239.2 L196.8 239.8 L197.3 240.4 L197.7 241.0 L198.2 241.5 L198.6 242.1 L199.1 242.7 L199.6 243.3 L200.0 243.9 L200.5 244.5 L200.9 245.1 L201.4 245.7 L201.8 246.3 L202.3 246.9 L202.8 247.5 L203.2 248.1 L203.7 248.7 L204.2 249.3 L204.6 249.8 L205.1 250.4 L205.5 251.0 L206.0 251.6 L206.5 252.2 L206.9 252.8 L207.4 253.4 L207.9 254.0 L208.3 254.6 L208.8 255.2 L209.3 255.8 L209.7 256.4 L210.2 257.0 L210.7 257.5 L211.1 258.1 L211.6 258.7 L212.1 259.3 L212.5 259.9 L213.0 260.5 L213.5 261.1 L214.0 261.7 L214.4 262.3 L214.9 262.9 L215.4 263.4 L215.9 264.0 L216.3 264.6 L216.8 265.2 L217.3 265.8 L217.8 266.4 L218.2 267.0 L218.7 267.6 L219.2 268.2 L219.7 268.7 L220.2 269.3 L220.7 269.9 L221.1 270.5 L221.6 271.1 L222.1 271.7 L222.6 272.2 L223.1 272.8 L223.6 273.4 L224.1 274.0 L224.6 274.6 L225.0 275.2 L225.5 275.7 L226.0 276.3 L226.5 276.9 L227.0 277.5 L227.5 278.0 L228.0 278.6 L228.5 279.2 L229.0 279.8 L229.5 280.3 L230.0 280.9 L230.5 281.5 L231.0 282.0 L231.5 282.6 L232.0 283.2 L232.5 283.7 L233.0 284.3 L233.5 284.9 L234.1 285.4 L234.6 286.0 L235.1 286.5 L235.6 287.1 L236.1 287.6 L236.6 288.2 L237.2 288.7 L237.7 289.3 L238.2 289.8 L238.7 290.4 L239.3 290.9 L239.8 291.4 L240.3 291.9 L240.9 292.5 L241.4 293.0 L242.0 293.5 L242.5 294.0 L243.0 294.5 L243.6 295.0 L244.2 295.5 L244.7 296.0 L245.3 296.5 L245.8 297.0 L246.4 297.5 L247.0 298.0 L247.6 298.5 L248.1 298.9 L248.7 299.4 L249.3 299.9 L249.9 300.3 L250.5 300.8 L251.1 301.2 L251.7 301.6 L252.3 302.1 L252.9 302.5 L253.5 302.9 L254.1 303.3 L254.8 303.8 L255.4 304.2 L256.0 304.6 L256.6 304.9 L257.3 305.3 L257.9 305.7 L258.6 306.1 L259.2 306.4 L259.9 306.8 L260.6 307.1 L261.2 307.5 L261.9 307.8 L262.6 308.1 L263.3 308.5 L264.0 308.8 L264.7 309.1 L265.4 309.4 L266.1 309.7 L266.8 310.0 L267.5 310.2 L268.2 310.5 L268.9 310.8 L269.7 311.0 L270.4 311.3 L271.1 311.6 L271.8 311.8 L272.6 312.1 L273.3 312.3 L274.0 312.6 L274.7 312.8 L275.5 313.0 L276.2 313.3 L276.9 313.5 L277.7 313.7 L278.4 313.9 L279.1 314.2 L279.9 314.4 L280.6 314.6 L281.3 314.8 L282.1 315.0 L282.8 315.2 L283.5 315.4 L284.3 315.6 L285.0 315.8 L285.7 316.0 L286.5 316.2 L287.2 316.4 L287.9 316.6 L288.7 316.8 L289.4 317.0 L290.1 317.1 L290.9 317.3 L291.6 317.5 L292.3 317.7 L293.1 317.8 L293.8 318.0 L294.5 318.2 L295.3 318.3 L296.0 318.5 L296.8 318.6 L297.5 318.8 L298.2 318.9 L299.0 319.1 L299.7 319.2 L300.5 319.4 L301.2 319.5 L301.9 319.7 L302.7 319.8 L303.4 319.9 L304.2 320.1 L304.9 320.2 L305.6 320.3 L306.4 320.5 L307.1 320.6 L307.9 320.7 L308.6 320.8 L309.3 320.9 L310.1 321.0 L310.8 321.2 L311.6 321.3 L312.3 321.4 L313.1 321.5 L313.8 321.6 L314.5 321.7 L315.3 321.8 L316.0 321.9 L316.8 322.0 L317.5 322.1 L318.3 322.2 L319.0 322.3 L319.8 322.4 L320.5 322.4 L321.2 322.5 L322.0 322.6 L322.7 322.7 L323.5 322.8 L324.2 322.8 L325.0 322.9 L325.7 323.0 L326.5 323.1 L327.2 323.1 L328.0 323.2 L328.7 323.3 L329.5 323.3 L330.2 323.4 L331.0 323.5 L331.7 323.5 L332.5 323.6 L333.2 323.6 L334.0 323.7 L334.7 323.7 L335.5 323.8 L336.2 323.8 L337.0 323.9 L337.7 323.9 L338.5 324.0 L339.2 324.0 L340.0 324.1 L340.7 324.1 L341.5 324.1 L342.2 324.2 L343.0 324.2 L343.7 324.2 L344.5 324.3 L345.2 324.3 L346.0 324.3 L346.7 324.4 L347.5 324.4 L348.2 324.4 L349.0 324.4 L349.7 324.5 L350.5 324.5 L351.2 324.5 L352.0 324.5 L352.7 324.6 L353.5 324.6 L354.2 324.6 L355.0 324.6 L355.7 324.6 L356.5 324.6 L357.3 324.6 L358.0 324.7 L358.8 324.7 L359.5 324.7 L360.3 324.7 L361.0 324.7 L361.8 324.7 L362.5 324.7 L363.3 324.7 L364.1 324.7 L364.8 324.7 L365.6 324.7 L366.3 324.7 L367.1 324.7 L367.8 324.7 L368.6 324.7 L369.3 324.7 L370.1 324.7 L370.9 324.7 L371.6 324.7 L372.4 324.7 L373.1 324.7 L373.9 324.6 L374.6 324.6 L375.4 324.6 L376.2 324.6 L376.9 324.6 L377.7 324.6 L378.4 324.6 L379.2 324.6 L379.9 324.5 L380.7 324.5 L381.5 324.5 L382.2 324.5 L383.0 324.5 L383.7 324.5 L384.5 324.5 L385.2 324.4 L386.0 324.4 L386.8 324.4 L387.5 324.4 L388.3 324.4 L389.0 324.3 L389.8 324.3 L390.6 324.3 L391.3 324.3 L392.1 324.2 L392.8 324.2 L393.6 324.2 L394.4 324.2 L395.1 324.2 L395.9 324.1 L396.6 324.1 L397.4 324.1 L398.2 324.1 L398.9 324.0 L399.7 324.0 L400.4 324.0 L401.2 324.0 L402.0 323.9 L402.7 323.9 L403.5 323.9 L404.2 323.9 L405.0 323.8 L405.8 323.8 L406.5 323.8 L407.3 323.8 L408.0 323.7 L408.8 323.7"/>
</g>
<path d="M49.3 5.9 H433.2 V324.9 H49.3" fill="none" stroke="#111111" stroke-width="2.0" stroke-linejoin="miter"/>
<line x1="49.3" y1="5.0" x2="49.3" y2="325.79999999999995" stroke="#5a5a5a" stroke-width="1.7"/>
<g stroke="#5a5a5a" stroke-width="1.4">
<line x1="49.9" y1="325.8" x2="49.9" y2="330.9"/>
<line x1="113.7" y1="325.8" x2="113.7" y2="330.9"/>
<line x1="177.5" y1="325.8" x2="177.5" y2="330.9"/>
<line x1="241.3" y1="325.8" x2="241.3" y2="330.9"/>
<line x1="305.1" y1="325.8" x2="305.1" y2="330.9"/>
<line x1="368.9" y1="325.8" x2="368.9" y2="330.9"/>
<line x1="432.7" y1="325.8" x2="432.7" y2="330.9"/>
</g>
<g stroke="#c4c4c4" stroke-width="1">
<line x1="45.8" y1="324.9" x2="48.5" y2="324.9"/>
<line x1="45.8" y1="271.7" x2="48.5" y2="271.7"/>
<line x1="45.8" y1="218.6" x2="48.5" y2="218.6"/>
<line x1="45.8" y1="165.4" x2="48.5" y2="165.4"/>
<line x1="45.8" y1="112.2" x2="48.5" y2="112.2"/>
<line x1="45.8" y1="59.1" x2="48.5" y2="59.1"/>
<line x1="45.8" y1="5.9" x2="48.5" y2="5.9"/>
</g>
<g filter="url(#gray)">
<g font-size="11.7" fill="#7a7a7a" text-anchor="end">
<text x="38.6" y="328.3" textLength="6.0" lengthAdjust="spacingAndGlyphs">0</text>
<text x="38.6" y="275.1" textLength="11.9" lengthAdjust="spacingAndGlyphs">20</text>
<text x="38.6" y="222.0" textLength="11.9" lengthAdjust="spacingAndGlyphs">40</text>
<text x="38.6" y="168.8" textLength="11.9" lengthAdjust="spacingAndGlyphs">60</text>
<text x="38.6" y="115.6" textLength="11.9" lengthAdjust="spacingAndGlyphs">80</text>
<text x="38.6" y="62.5" textLength="17.9" lengthAdjust="spacingAndGlyphs">100</text>
<text x="38.6" y="9.3" textLength="17.9" lengthAdjust="spacingAndGlyphs">120</text>
</g>
<g font-size="14.2" font-weight="bold" fill="#606060" text-anchor="middle">
<text x="49.6" y="351.4" textLength="23" lengthAdjust="spacingAndGlyphs">420</text>
<text x="113.4" y="351.4" textLength="23" lengthAdjust="spacingAndGlyphs">470</text>
<text x="177.2" y="351.4" textLength="23" lengthAdjust="spacingAndGlyphs">520</text>
<text x="241.0" y="351.4" textLength="23" lengthAdjust="spacingAndGlyphs">570</text>
<text x="304.8" y="351.4" textLength="23" lengthAdjust="spacingAndGlyphs">620</text>
<text x="368.6" y="351.4" textLength="23" lengthAdjust="spacingAndGlyphs">670</text>
<text x="432.4" y="351.4" textLength="23" lengthAdjust="spacingAndGlyphs">720</text>
</g>
<text x="242.2" y="372.2" font-size="14.2" font-weight="bold" fill="#5c5c5c" text-anchor="middle" textLength="112.7" lengthAdjust="spacing">Wavelength(nm)</text>
<text transform="translate(12.1 165) rotate(-90)" font-size="13.6" font-weight="bold" fill="#5c5c5c" text-anchor="middle" textLength="144.3" lengthAdjust="spacing">Fluorescence Intensity</text>
</g>
<rect x="437.8" y="98.2" width="84.0" height="188.5" fill="#ffffff" stroke="#111111" stroke-width="2.2"/>
<line x1="442.9" y1="110.1" x2="470" y2="110.1" stroke="#4e86c8" stroke-width="2.3"/>
<line x1="442.9" y1="133.8" x2="470" y2="133.8" stroke="#e00c14" stroke-width="2.3"/>
<line x1="442.9" y1="157.4" x2="470" y2="157.4" stroke="#c4ee3c" stroke-width="2.3"/>
<line x1="442.9" y1="181.1" x2="470" y2="181.1" stroke="#9070c0" stroke-width="2.3"/>
<line x1="442.9" y1="204.7" x2="470" y2="204.7" stroke="#58cce0" stroke-width="2.3"/>
<line x1="442.9" y1="228.4" x2="470" y2="228.4" stroke="#fba040" stroke-width="2.3"/>
<line x1="442.9" y1="252.1" x2="470" y2="252.1" stroke="#2a5590" stroke-width="2.3"/>
<line x1="442.9" y1="275.7" x2="470" y2="275.7" stroke="#8c3a40" stroke-width="2.3"/>
<g font-size="10.8" fill="#585858" filter="url(#gray)">
<text x="471.9" y="113.7" textLength="23.5" lengthAdjust="spacing">GQD</text>
<text x="471.9" y="137.4" textLength="37.0" lengthAdjust="spacing">10^-6M</text>
<text x="471.9" y="161.0" textLength="37.0" lengthAdjust="spacing">10^-7M</text>
<text x="471.9" y="184.7" textLength="37.0" lengthAdjust="spacing">10^-8M</text>
<text x="471.9" y="208.3" textLength="37.0" lengthAdjust="spacing">10^-9M</text>
<text x="471.9" y="232.0" textLength="43.3" lengthAdjust="spacing">10^-10M</text>
<text x="471.9" y="255.7" textLength="43.3" lengthAdjust="spacing">10^-11M</text>
<text x="471.9" y="279.3" textLength="43.3" lengthAdjust="spacing">10^-12M</text>
</g>
</svg>
</body>
</html>
